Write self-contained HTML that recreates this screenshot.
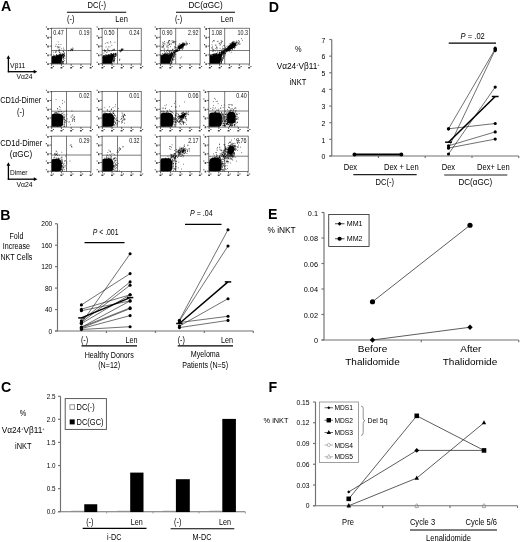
<!DOCTYPE html>
<html><head><meta charset="utf-8"><title>Figure</title>
<style>
html,body{margin:0;padding:0;background:#fff;}
body{width:520px;height:542px;overflow:hidden;font-family:"Liberation Sans",sans-serif;}
svg{display:block;will-change:transform;filter:grayscale(1);}
svg text{font-family:"Liberation Sans",sans-serif;}
</style></head><body>
<svg width="520" height="542" viewBox="0 0 520 542">
<rect width="520" height="542" fill="#fff"/>
<text transform="translate(1.00,10.80) scale(1,1)" font-size="14.2" text-anchor="start" font-weight="bold" font-style="normal" fill="#000" >A</text>
<text transform="translate(0.20,220.40) scale(1,1)" font-size="14.2" text-anchor="start" font-weight="bold" font-style="normal" fill="#000" >B</text>
<text transform="translate(1.00,391.80) scale(1,1)" font-size="14.2" text-anchor="start" font-weight="bold" font-style="normal" fill="#000" >C</text>
<text transform="translate(268.70,11.70) scale(1,1)" font-size="14.2" text-anchor="start" font-weight="bold" font-style="normal" fill="#000" >D</text>
<text transform="translate(268.00,219.20) scale(1,1)" font-size="14.2" text-anchor="start" font-weight="bold" font-style="normal" fill="#000" >E</text>
<text transform="translate(268.60,392.00) scale(1,1)" font-size="14.2" text-anchor="start" font-weight="bold" font-style="normal" fill="#000" >F</text>
<text transform="translate(96.70,7.90) scale(0.88,1)" font-size="8.6" text-anchor="middle" font-weight="normal" font-style="normal" fill="#000" >DC(-)</text>
<line x1="66.90" y1="12.30" x2="126.20" y2="12.30" stroke="#000" stroke-width="1.1" />
<text transform="translate(67.00,21.60) scale(0.88,1)" font-size="8.4" text-anchor="start" font-weight="normal" font-style="normal" fill="#000" >(-)</text>
<text transform="translate(127.80,21.70) scale(0.88,1)" font-size="8.5" text-anchor="end" font-weight="normal" font-style="normal" fill="#000" >Len</text>
<text transform="translate(205.50,7.90) scale(0.93,1)" font-size="8.8" text-anchor="middle" font-weight="normal" font-style="normal" fill="#000" >DC(αGC)</text>
<line x1="176.00" y1="12.30" x2="235.00" y2="12.30" stroke="#000" stroke-width="1.1" />
<text transform="translate(174.90,21.60) scale(0.88,1)" font-size="8.4" text-anchor="start" font-weight="normal" font-style="normal" fill="#000" >(-)</text>
<text transform="translate(233.30,21.70) scale(0.88,1)" font-size="8.5" text-anchor="end" font-weight="normal" font-style="normal" fill="#000" >Len</text>
<line x1="8.40" y1="58.20" x2="8.40" y2="72.30" stroke="#000" stroke-width="1.3" />
<line x1="7.80" y1="71.70" x2="34.30" y2="71.70" stroke="#000" stroke-width="1.3" />
<path d="M6.5,58.800000000000004 L8.4,55.2 L10.3,58.800000000000004Z" fill="#000"/>
<path d="M33.699999999999996,69.8 L37.3,71.7 L33.699999999999996,73.60000000000001Z" fill="#000"/>
<text transform="translate(10.00,67.90) scale(0.9,1)" font-size="7.5" text-anchor="start" font-weight="normal" font-style="normal" fill="#000" >Vβ11</text>
<text transform="translate(16.60,79.00) scale(0.9,1)" font-size="7.5" text-anchor="start" font-weight="normal" font-style="normal" fill="#000" >Vα24</text>
<line x1="8.40" y1="165.20" x2="8.40" y2="179.80" stroke="#000" stroke-width="1.3" />
<line x1="7.80" y1="179.20" x2="34.40" y2="179.20" stroke="#000" stroke-width="1.3" />
<path d="M6.5,165.79999999999998 L8.4,162.2 L10.3,165.79999999999998Z" fill="#000"/>
<path d="M33.8,177.29999999999998 L37.4,179.2 L33.8,181.1Z" fill="#000"/>
<text transform="translate(10.00,175.10) scale(0.88,1)" font-size="7.5" text-anchor="start" font-weight="normal" font-style="normal" fill="#000" >Dimer</text>
<text transform="translate(16.50,186.80) scale(0.9,1)" font-size="7.6" text-anchor="start" font-weight="normal" font-style="normal" fill="#000" >Vα24</text>
<text transform="translate(20.70,103.00) scale(0.87,1)" font-size="8.5" text-anchor="middle" font-weight="normal" font-style="normal" fill="#000" >CD1d-Dimer</text>
<text transform="translate(20.70,114.70) scale(0.88,1)" font-size="8.4" text-anchor="middle" font-weight="normal" font-style="normal" fill="#000" >(-)</text>
<text transform="translate(21.30,145.90) scale(0.88,1)" font-size="8.6" text-anchor="middle" font-weight="normal" font-style="normal" fill="#000" >CD1d-Dimer</text>
<text transform="translate(21.00,157.00) scale(0.93,1)" font-size="8.8" text-anchor="middle" font-weight="normal" font-style="normal" fill="#000" >(αGC)</text>
<rect x="51.40" y="28.20" width="39.60" height="35.80" fill="none" stroke="#333" stroke-width="0.65"/>
<line x1="66.50" y1="28.20" x2="66.50" y2="64.00" stroke="#333" stroke-width="0.65" />
<line x1="51.40" y1="50.50" x2="91.00" y2="50.50" stroke="#333" stroke-width="0.65" />
<line x1="49.50" y1="63.70" x2="51.40" y2="63.70" stroke="#222" stroke-width="0.7" />
<path d="M47.30,63.20h1.5v1.9h-1.5zM45.90,61.70h1.1v1.1h-1.1z" fill="#222" opacity="0.85"/>
<line x1="51.70" y1="64.00" x2="51.70" y2="65.90" stroke="#222" stroke-width="0.7" />
<path d="M50.70,66.90h1.9v1.5h-1.9zM52.90,65.90h1.1v1.1h-1.1z" fill="#222" opacity="0.85"/>
<line x1="49.50" y1="54.90" x2="51.40" y2="54.90" stroke="#222" stroke-width="0.7" />
<path d="M47.30,54.40h1.5v1.9h-1.5zM45.90,52.90h1.1v1.1h-1.1z" fill="#222" opacity="0.85"/>
<line x1="61.45" y1="64.00" x2="61.45" y2="65.90" stroke="#222" stroke-width="0.7" />
<path d="M60.45,66.90h1.9v1.5h-1.9zM62.65,65.90h1.1v1.1h-1.1z" fill="#222" opacity="0.85"/>
<line x1="49.50" y1="46.10" x2="51.40" y2="46.10" stroke="#222" stroke-width="0.7" />
<path d="M47.30,45.60h1.5v1.9h-1.5zM45.90,44.10h1.1v1.1h-1.1z" fill="#222" opacity="0.85"/>
<line x1="71.20" y1="64.00" x2="71.20" y2="65.90" stroke="#222" stroke-width="0.7" />
<path d="M70.20,66.90h1.9v1.5h-1.9zM72.40,65.90h1.1v1.1h-1.1z" fill="#222" opacity="0.85"/>
<line x1="49.50" y1="37.30" x2="51.40" y2="37.30" stroke="#222" stroke-width="0.7" />
<path d="M47.30,36.80h1.5v1.9h-1.5zM45.90,35.30h1.1v1.1h-1.1z" fill="#222" opacity="0.85"/>
<line x1="80.95" y1="64.00" x2="80.95" y2="65.90" stroke="#222" stroke-width="0.7" />
<path d="M79.95,66.90h1.9v1.5h-1.9zM82.15,65.90h1.1v1.1h-1.1z" fill="#222" opacity="0.85"/>
<line x1="49.50" y1="28.50" x2="51.40" y2="28.50" stroke="#222" stroke-width="0.7" />
<path d="M47.30,28.00h1.5v1.9h-1.5zM45.90,26.50h1.1v1.1h-1.1z" fill="#222" opacity="0.85"/>
<line x1="90.70" y1="64.00" x2="90.70" y2="65.90" stroke="#222" stroke-width="0.7" />
<path d="M89.70,66.90h1.9v1.5h-1.9zM91.90,65.90h1.1v1.1h-1.1z" fill="#222" opacity="0.85"/>
<text transform="translate(53.30,34.90) scale(0.77,1)" font-size="7.0" text-anchor="start" font-weight="normal" font-style="normal" fill="#111" >0.47</text>
<text transform="translate(89.40,34.90) scale(0.77,1)" font-size="7.0" text-anchor="end" font-weight="normal" font-style="normal" fill="#111" >0.19</text>
<path d="M51.7,63.7 L51.7,57.3 L53.0,56.8 L54.3,56.4 L55.6,56.6 L56.9,55.7 L58.1,55.8 L59.4,55.4 L60.7,54.8 L62.0,54.9 L63.3,54.6 L62.9,55.8 L61.9,60.7 L61.0,63.7Z" fill="#000"/>
<rect x="102.10" y="28.20" width="39.10" height="35.80" fill="none" stroke="#333" stroke-width="0.65"/>
<line x1="117.50" y1="28.20" x2="117.50" y2="64.00" stroke="#333" stroke-width="0.65" />
<line x1="102.10" y1="50.50" x2="141.20" y2="50.50" stroke="#333" stroke-width="0.65" />
<line x1="100.20" y1="63.70" x2="102.10" y2="63.70" stroke="#222" stroke-width="0.7" />
<path d="M98.00,63.20h1.5v1.9h-1.5zM96.60,61.70h1.1v1.1h-1.1z" fill="#222" opacity="0.85"/>
<line x1="102.40" y1="64.00" x2="102.40" y2="65.90" stroke="#222" stroke-width="0.7" />
<path d="M101.40,66.90h1.9v1.5h-1.9zM103.60,65.90h1.1v1.1h-1.1z" fill="#222" opacity="0.85"/>
<line x1="100.20" y1="54.90" x2="102.10" y2="54.90" stroke="#222" stroke-width="0.7" />
<path d="M98.00,54.40h1.5v1.9h-1.5zM96.60,52.90h1.1v1.1h-1.1z" fill="#222" opacity="0.85"/>
<line x1="112.02" y1="64.00" x2="112.02" y2="65.90" stroke="#222" stroke-width="0.7" />
<path d="M111.02,66.90h1.9v1.5h-1.9zM113.22,65.90h1.1v1.1h-1.1z" fill="#222" opacity="0.85"/>
<line x1="100.20" y1="46.10" x2="102.10" y2="46.10" stroke="#222" stroke-width="0.7" />
<path d="M98.00,45.60h1.5v1.9h-1.5zM96.60,44.10h1.1v1.1h-1.1z" fill="#222" opacity="0.85"/>
<line x1="121.65" y1="64.00" x2="121.65" y2="65.90" stroke="#222" stroke-width="0.7" />
<path d="M120.65,66.90h1.9v1.5h-1.9zM122.85,65.90h1.1v1.1h-1.1z" fill="#222" opacity="0.85"/>
<line x1="100.20" y1="37.30" x2="102.10" y2="37.30" stroke="#222" stroke-width="0.7" />
<path d="M98.00,36.80h1.5v1.9h-1.5zM96.60,35.30h1.1v1.1h-1.1z" fill="#222" opacity="0.85"/>
<line x1="131.27" y1="64.00" x2="131.27" y2="65.90" stroke="#222" stroke-width="0.7" />
<path d="M130.27,66.90h1.9v1.5h-1.9zM132.47,65.90h1.1v1.1h-1.1z" fill="#222" opacity="0.85"/>
<line x1="100.20" y1="28.50" x2="102.10" y2="28.50" stroke="#222" stroke-width="0.7" />
<path d="M98.00,28.00h1.5v1.9h-1.5zM96.60,26.50h1.1v1.1h-1.1z" fill="#222" opacity="0.85"/>
<line x1="140.90" y1="64.00" x2="140.90" y2="65.90" stroke="#222" stroke-width="0.7" />
<path d="M139.90,66.90h1.9v1.5h-1.9zM142.10,65.90h1.1v1.1h-1.1z" fill="#222" opacity="0.85"/>
<text transform="translate(104.00,34.90) scale(0.77,1)" font-size="7.0" text-anchor="start" font-weight="normal" font-style="normal" fill="#111" >0.50</text>
<text transform="translate(139.60,34.90) scale(0.77,1)" font-size="7.0" text-anchor="end" font-weight="normal" font-style="normal" fill="#111" >0.24</text>
<path d="M102.4,63.7 L102.4,57.0 L103.8,56.4 L105.1,56.2 L106.5,56.3 L107.9,55.3 L109.2,55.5 L110.6,55.1 L112.0,54.3 L113.3,54.3 L114.7,54.2 L114.3,55.4 L112.7,60.7 L111.8,63.7Z" fill="#000"/>
<rect x="160.20" y="28.20" width="39.90" height="35.80" fill="none" stroke="#333" stroke-width="0.65"/>
<line x1="175.70" y1="28.20" x2="175.70" y2="64.00" stroke="#333" stroke-width="0.65" />
<line x1="160.20" y1="50.50" x2="200.10" y2="50.50" stroke="#333" stroke-width="0.65" />
<line x1="158.30" y1="63.70" x2="160.20" y2="63.70" stroke="#222" stroke-width="0.7" />
<path d="M156.10,63.20h1.5v1.9h-1.5zM154.70,61.70h1.1v1.1h-1.1z" fill="#222" opacity="0.85"/>
<line x1="160.50" y1="64.00" x2="160.50" y2="65.90" stroke="#222" stroke-width="0.7" />
<path d="M159.50,66.90h1.9v1.5h-1.9zM161.70,65.90h1.1v1.1h-1.1z" fill="#222" opacity="0.85"/>
<line x1="158.30" y1="54.90" x2="160.20" y2="54.90" stroke="#222" stroke-width="0.7" />
<path d="M156.10,54.40h1.5v1.9h-1.5zM154.70,52.90h1.1v1.1h-1.1z" fill="#222" opacity="0.85"/>
<line x1="170.32" y1="64.00" x2="170.32" y2="65.90" stroke="#222" stroke-width="0.7" />
<path d="M169.32,66.90h1.9v1.5h-1.9zM171.52,65.90h1.1v1.1h-1.1z" fill="#222" opacity="0.85"/>
<line x1="158.30" y1="46.10" x2="160.20" y2="46.10" stroke="#222" stroke-width="0.7" />
<path d="M156.10,45.60h1.5v1.9h-1.5zM154.70,44.10h1.1v1.1h-1.1z" fill="#222" opacity="0.85"/>
<line x1="180.15" y1="64.00" x2="180.15" y2="65.90" stroke="#222" stroke-width="0.7" />
<path d="M179.15,66.90h1.9v1.5h-1.9zM181.35,65.90h1.1v1.1h-1.1z" fill="#222" opacity="0.85"/>
<line x1="158.30" y1="37.30" x2="160.20" y2="37.30" stroke="#222" stroke-width="0.7" />
<path d="M156.10,36.80h1.5v1.9h-1.5zM154.70,35.30h1.1v1.1h-1.1z" fill="#222" opacity="0.85"/>
<line x1="189.97" y1="64.00" x2="189.97" y2="65.90" stroke="#222" stroke-width="0.7" />
<path d="M188.97,66.90h1.9v1.5h-1.9zM191.17,65.90h1.1v1.1h-1.1z" fill="#222" opacity="0.85"/>
<line x1="158.30" y1="28.50" x2="160.20" y2="28.50" stroke="#222" stroke-width="0.7" />
<path d="M156.10,28.00h1.5v1.9h-1.5zM154.70,26.50h1.1v1.1h-1.1z" fill="#222" opacity="0.85"/>
<line x1="199.80" y1="64.00" x2="199.80" y2="65.90" stroke="#222" stroke-width="0.7" />
<path d="M198.80,66.90h1.9v1.5h-1.9zM201.00,65.90h1.1v1.1h-1.1z" fill="#222" opacity="0.85"/>
<text transform="translate(162.10,34.90) scale(0.77,1)" font-size="7.0" text-anchor="start" font-weight="normal" font-style="normal" fill="#111" >0.90</text>
<text transform="translate(198.50,34.90) scale(0.77,1)" font-size="7.0" text-anchor="end" font-weight="normal" font-style="normal" fill="#111" >2.92</text>
<path d="M160.5,63.7 L160.5,55.3 L162.0,55.2 L163.5,54.7 L164.9,54.3 L166.4,54.2 L167.9,54.4 L169.4,54.2 L170.8,53.4 L172.3,53.2 L173.8,53.4 L173.4,54.6 L170.9,60.7 L170.0,63.7Z" fill="#000"/>
<ellipse cx="181.4" cy="46.2" rx="4.0" ry="1.7" transform="rotate(-36 181.4 46.2)" fill="#000"/>
<rect x="209.50" y="28.20" width="40.00" height="35.80" fill="none" stroke="#333" stroke-width="0.65"/>
<line x1="224.70" y1="28.20" x2="224.70" y2="64.00" stroke="#333" stroke-width="0.65" />
<line x1="209.50" y1="50.50" x2="249.50" y2="50.50" stroke="#333" stroke-width="0.65" />
<line x1="207.60" y1="63.70" x2="209.50" y2="63.70" stroke="#222" stroke-width="0.7" />
<path d="M205.40,63.20h1.5v1.9h-1.5zM204.00,61.70h1.1v1.1h-1.1z" fill="#222" opacity="0.85"/>
<line x1="209.80" y1="64.00" x2="209.80" y2="65.90" stroke="#222" stroke-width="0.7" />
<path d="M208.80,66.90h1.9v1.5h-1.9zM211.00,65.90h1.1v1.1h-1.1z" fill="#222" opacity="0.85"/>
<line x1="207.60" y1="54.90" x2="209.50" y2="54.90" stroke="#222" stroke-width="0.7" />
<path d="M205.40,54.40h1.5v1.9h-1.5zM204.00,52.90h1.1v1.1h-1.1z" fill="#222" opacity="0.85"/>
<line x1="219.65" y1="64.00" x2="219.65" y2="65.90" stroke="#222" stroke-width="0.7" />
<path d="M218.65,66.90h1.9v1.5h-1.9zM220.85,65.90h1.1v1.1h-1.1z" fill="#222" opacity="0.85"/>
<line x1="207.60" y1="46.10" x2="209.50" y2="46.10" stroke="#222" stroke-width="0.7" />
<path d="M205.40,45.60h1.5v1.9h-1.5zM204.00,44.10h1.1v1.1h-1.1z" fill="#222" opacity="0.85"/>
<line x1="229.50" y1="64.00" x2="229.50" y2="65.90" stroke="#222" stroke-width="0.7" />
<path d="M228.50,66.90h1.9v1.5h-1.9zM230.70,65.90h1.1v1.1h-1.1z" fill="#222" opacity="0.85"/>
<line x1="207.60" y1="37.30" x2="209.50" y2="37.30" stroke="#222" stroke-width="0.7" />
<path d="M205.40,36.80h1.5v1.9h-1.5zM204.00,35.30h1.1v1.1h-1.1z" fill="#222" opacity="0.85"/>
<line x1="239.35" y1="64.00" x2="239.35" y2="65.90" stroke="#222" stroke-width="0.7" />
<path d="M238.35,66.90h1.9v1.5h-1.9zM240.55,65.90h1.1v1.1h-1.1z" fill="#222" opacity="0.85"/>
<line x1="207.60" y1="28.50" x2="209.50" y2="28.50" stroke="#222" stroke-width="0.7" />
<path d="M205.40,28.00h1.5v1.9h-1.5zM204.00,26.50h1.1v1.1h-1.1z" fill="#222" opacity="0.85"/>
<line x1="249.20" y1="64.00" x2="249.20" y2="65.90" stroke="#222" stroke-width="0.7" />
<path d="M248.20,66.90h1.9v1.5h-1.9zM250.40,65.90h1.1v1.1h-1.1z" fill="#222" opacity="0.85"/>
<text transform="translate(211.40,34.90) scale(0.77,1)" font-size="7.0" text-anchor="start" font-weight="normal" font-style="normal" fill="#111" >1.08</text>
<text transform="translate(247.90,34.90) scale(0.77,1)" font-size="7.0" text-anchor="end" font-weight="normal" font-style="normal" fill="#111" >10.3</text>
<path d="M209.8,63.7 L209.8,56.1 L211.3,55.8 L212.8,55.5 L214.2,54.8 L215.7,54.2 L217.2,54.3 L218.7,54.1 L220.1,53.6 L221.6,53.1 L223.1,52.5 L222.7,53.7 L220.8,60.7 L219.9,63.7Z" fill="#000"/>
<ellipse cx="231.7" cy="46.3" rx="5.6" ry="2.3" transform="rotate(-35 231.7 46.3)" fill="#000"/>
<rect x="51.40" y="91.40" width="39.60" height="35.70" fill="none" stroke="#333" stroke-width="0.65"/>
<line x1="66.50" y1="91.40" x2="66.50" y2="127.10" stroke="#333" stroke-width="0.65" />
<line x1="51.40" y1="111.20" x2="91.00" y2="111.20" stroke="#333" stroke-width="0.65" />
<line x1="49.50" y1="126.80" x2="51.40" y2="126.80" stroke="#222" stroke-width="0.7" />
<path d="M47.30,126.30h1.5v1.9h-1.5zM45.90,124.80h1.1v1.1h-1.1z" fill="#222" opacity="0.85"/>
<line x1="51.70" y1="127.10" x2="51.70" y2="129.00" stroke="#222" stroke-width="0.7" />
<path d="M50.70,130.00h1.9v1.5h-1.9zM52.90,129.00h1.1v1.1h-1.1z" fill="#222" opacity="0.85"/>
<line x1="49.50" y1="118.03" x2="51.40" y2="118.03" stroke="#222" stroke-width="0.7" />
<path d="M47.30,117.53h1.5v1.9h-1.5zM45.90,116.03h1.1v1.1h-1.1z" fill="#222" opacity="0.85"/>
<line x1="61.45" y1="127.10" x2="61.45" y2="129.00" stroke="#222" stroke-width="0.7" />
<path d="M60.45,130.00h1.9v1.5h-1.9zM62.65,129.00h1.1v1.1h-1.1z" fill="#222" opacity="0.85"/>
<line x1="49.50" y1="109.25" x2="51.40" y2="109.25" stroke="#222" stroke-width="0.7" />
<path d="M47.30,108.75h1.5v1.9h-1.5zM45.90,107.25h1.1v1.1h-1.1z" fill="#222" opacity="0.85"/>
<line x1="71.20" y1="127.10" x2="71.20" y2="129.00" stroke="#222" stroke-width="0.7" />
<path d="M70.20,130.00h1.9v1.5h-1.9zM72.40,129.00h1.1v1.1h-1.1z" fill="#222" opacity="0.85"/>
<line x1="49.50" y1="100.48" x2="51.40" y2="100.48" stroke="#222" stroke-width="0.7" />
<path d="M47.30,99.98h1.5v1.9h-1.5zM45.90,98.48h1.1v1.1h-1.1z" fill="#222" opacity="0.85"/>
<line x1="80.95" y1="127.10" x2="80.95" y2="129.00" stroke="#222" stroke-width="0.7" />
<path d="M79.95,130.00h1.9v1.5h-1.9zM82.15,129.00h1.1v1.1h-1.1z" fill="#222" opacity="0.85"/>
<line x1="49.50" y1="91.70" x2="51.40" y2="91.70" stroke="#222" stroke-width="0.7" />
<path d="M47.30,91.20h1.5v1.9h-1.5zM45.90,89.70h1.1v1.1h-1.1z" fill="#222" opacity="0.85"/>
<line x1="90.70" y1="127.10" x2="90.70" y2="129.00" stroke="#222" stroke-width="0.7" />
<path d="M89.70,130.00h1.9v1.5h-1.9zM91.90,129.00h1.1v1.1h-1.1z" fill="#222" opacity="0.85"/>
<text transform="translate(89.40,97.90) scale(0.77,1)" font-size="7.0" text-anchor="end" font-weight="normal" font-style="normal" fill="#111" >0.02</text>
<path d="M51.7,126.8 L51.7,115.9 Q51.7,113.5 54.6,113.5 L58.1,113.5 Q63.1,113.5 63.1,118.5 L62.9,123.6 Q62.8,126.8 59.9,126.8Z" fill="#000"/>
<rect x="102.10" y="91.40" width="39.10" height="35.70" fill="none" stroke="#333" stroke-width="0.65"/>
<line x1="117.50" y1="91.40" x2="117.50" y2="127.10" stroke="#333" stroke-width="0.65" />
<line x1="102.10" y1="111.20" x2="141.20" y2="111.20" stroke="#333" stroke-width="0.65" />
<line x1="100.20" y1="126.80" x2="102.10" y2="126.80" stroke="#222" stroke-width="0.7" />
<path d="M98.00,126.30h1.5v1.9h-1.5zM96.60,124.80h1.1v1.1h-1.1z" fill="#222" opacity="0.85"/>
<line x1="102.40" y1="127.10" x2="102.40" y2="129.00" stroke="#222" stroke-width="0.7" />
<path d="M101.40,130.00h1.9v1.5h-1.9zM103.60,129.00h1.1v1.1h-1.1z" fill="#222" opacity="0.85"/>
<line x1="100.20" y1="118.03" x2="102.10" y2="118.03" stroke="#222" stroke-width="0.7" />
<path d="M98.00,117.53h1.5v1.9h-1.5zM96.60,116.03h1.1v1.1h-1.1z" fill="#222" opacity="0.85"/>
<line x1="112.02" y1="127.10" x2="112.02" y2="129.00" stroke="#222" stroke-width="0.7" />
<path d="M111.02,130.00h1.9v1.5h-1.9zM113.22,129.00h1.1v1.1h-1.1z" fill="#222" opacity="0.85"/>
<line x1="100.20" y1="109.25" x2="102.10" y2="109.25" stroke="#222" stroke-width="0.7" />
<path d="M98.00,108.75h1.5v1.9h-1.5zM96.60,107.25h1.1v1.1h-1.1z" fill="#222" opacity="0.85"/>
<line x1="121.65" y1="127.10" x2="121.65" y2="129.00" stroke="#222" stroke-width="0.7" />
<path d="M120.65,130.00h1.9v1.5h-1.9zM122.85,129.00h1.1v1.1h-1.1z" fill="#222" opacity="0.85"/>
<line x1="100.20" y1="100.48" x2="102.10" y2="100.48" stroke="#222" stroke-width="0.7" />
<path d="M98.00,99.98h1.5v1.9h-1.5zM96.60,98.48h1.1v1.1h-1.1z" fill="#222" opacity="0.85"/>
<line x1="131.27" y1="127.10" x2="131.27" y2="129.00" stroke="#222" stroke-width="0.7" />
<path d="M130.27,130.00h1.9v1.5h-1.9zM132.47,129.00h1.1v1.1h-1.1z" fill="#222" opacity="0.85"/>
<line x1="100.20" y1="91.70" x2="102.10" y2="91.70" stroke="#222" stroke-width="0.7" />
<path d="M98.00,91.20h1.5v1.9h-1.5zM96.60,89.70h1.1v1.1h-1.1z" fill="#222" opacity="0.85"/>
<line x1="140.90" y1="127.10" x2="140.90" y2="129.00" stroke="#222" stroke-width="0.7" />
<path d="M139.90,130.00h1.9v1.5h-1.9zM142.10,129.00h1.1v1.1h-1.1z" fill="#222" opacity="0.85"/>
<text transform="translate(139.60,97.90) scale(0.77,1)" font-size="7.0" text-anchor="end" font-weight="normal" font-style="normal" fill="#111" >0.01</text>
<path d="M102.4,126.8 L102.4,115.6 Q102.4,113.2 105.3,113.2 L109.0,113.2 Q114.0,113.2 114.0,118.2 L113.8,123.6 Q113.7,126.8 110.8,126.8Z" fill="#000"/>
<rect x="122.70" y="116.40" width="1.00" height="1.20" fill="#000" stroke="none" stroke-width="0"/>
<rect x="160.20" y="91.40" width="39.80" height="35.70" fill="none" stroke="#333" stroke-width="0.65"/>
<line x1="175.70" y1="91.40" x2="175.70" y2="127.10" stroke="#333" stroke-width="0.65" />
<line x1="160.20" y1="111.20" x2="200.00" y2="111.20" stroke="#333" stroke-width="0.65" />
<line x1="158.30" y1="126.80" x2="160.20" y2="126.80" stroke="#222" stroke-width="0.7" />
<path d="M156.10,126.30h1.5v1.9h-1.5zM154.70,124.80h1.1v1.1h-1.1z" fill="#222" opacity="0.85"/>
<line x1="160.50" y1="127.10" x2="160.50" y2="129.00" stroke="#222" stroke-width="0.7" />
<path d="M159.50,130.00h1.9v1.5h-1.9zM161.70,129.00h1.1v1.1h-1.1z" fill="#222" opacity="0.85"/>
<line x1="158.30" y1="118.03" x2="160.20" y2="118.03" stroke="#222" stroke-width="0.7" />
<path d="M156.10,117.53h1.5v1.9h-1.5zM154.70,116.03h1.1v1.1h-1.1z" fill="#222" opacity="0.85"/>
<line x1="170.30" y1="127.10" x2="170.30" y2="129.00" stroke="#222" stroke-width="0.7" />
<path d="M169.30,130.00h1.9v1.5h-1.9zM171.50,129.00h1.1v1.1h-1.1z" fill="#222" opacity="0.85"/>
<line x1="158.30" y1="109.25" x2="160.20" y2="109.25" stroke="#222" stroke-width="0.7" />
<path d="M156.10,108.75h1.5v1.9h-1.5zM154.70,107.25h1.1v1.1h-1.1z" fill="#222" opacity="0.85"/>
<line x1="180.10" y1="127.10" x2="180.10" y2="129.00" stroke="#222" stroke-width="0.7" />
<path d="M179.10,130.00h1.9v1.5h-1.9zM181.30,129.00h1.1v1.1h-1.1z" fill="#222" opacity="0.85"/>
<line x1="158.30" y1="100.48" x2="160.20" y2="100.48" stroke="#222" stroke-width="0.7" />
<path d="M156.10,99.98h1.5v1.9h-1.5zM154.70,98.48h1.1v1.1h-1.1z" fill="#222" opacity="0.85"/>
<line x1="189.90" y1="127.10" x2="189.90" y2="129.00" stroke="#222" stroke-width="0.7" />
<path d="M188.90,130.00h1.9v1.5h-1.9zM191.10,129.00h1.1v1.1h-1.1z" fill="#222" opacity="0.85"/>
<line x1="158.30" y1="91.70" x2="160.20" y2="91.70" stroke="#222" stroke-width="0.7" />
<path d="M156.10,91.20h1.5v1.9h-1.5zM154.70,89.70h1.1v1.1h-1.1z" fill="#222" opacity="0.85"/>
<line x1="199.70" y1="127.10" x2="199.70" y2="129.00" stroke="#222" stroke-width="0.7" />
<path d="M198.70,130.00h1.9v1.5h-1.9zM200.90,129.00h1.1v1.1h-1.1z" fill="#222" opacity="0.85"/>
<text transform="translate(198.40,97.90) scale(0.77,1)" font-size="7.0" text-anchor="end" font-weight="normal" font-style="normal" fill="#111" >0.06</text>
<path d="M160.5,126.8 L160.5,115.4 Q160.5,112.8 163.6,112.8 L168.3,112.8 Q173.3,112.8 173.3,117.8 L173.1,123.6 Q173.0,126.8 170.1,126.8Z" fill="#000"/>
<ellipse cx="182.7" cy="115.8" rx="3.4" ry="1.5" transform="rotate(-40 182.7 115.8)" fill="#000"/>
<rect x="208.80" y="91.40" width="39.60" height="35.70" fill="none" stroke="#333" stroke-width="0.65"/>
<line x1="224.70" y1="91.40" x2="224.70" y2="127.10" stroke="#333" stroke-width="0.65" />
<line x1="208.80" y1="111.00" x2="248.40" y2="111.00" stroke="#333" stroke-width="0.65" />
<line x1="206.90" y1="126.80" x2="208.80" y2="126.80" stroke="#222" stroke-width="0.7" />
<path d="M204.70,126.30h1.5v1.9h-1.5zM203.30,124.80h1.1v1.1h-1.1z" fill="#222" opacity="0.85"/>
<line x1="209.10" y1="127.10" x2="209.10" y2="129.00" stroke="#222" stroke-width="0.7" />
<path d="M208.10,130.00h1.9v1.5h-1.9zM210.30,129.00h1.1v1.1h-1.1z" fill="#222" opacity="0.85"/>
<line x1="206.90" y1="118.03" x2="208.80" y2="118.03" stroke="#222" stroke-width="0.7" />
<path d="M204.70,117.53h1.5v1.9h-1.5zM203.30,116.03h1.1v1.1h-1.1z" fill="#222" opacity="0.85"/>
<line x1="218.85" y1="127.10" x2="218.85" y2="129.00" stroke="#222" stroke-width="0.7" />
<path d="M217.85,130.00h1.9v1.5h-1.9zM220.05,129.00h1.1v1.1h-1.1z" fill="#222" opacity="0.85"/>
<line x1="206.90" y1="109.25" x2="208.80" y2="109.25" stroke="#222" stroke-width="0.7" />
<path d="M204.70,108.75h1.5v1.9h-1.5zM203.30,107.25h1.1v1.1h-1.1z" fill="#222" opacity="0.85"/>
<line x1="228.60" y1="127.10" x2="228.60" y2="129.00" stroke="#222" stroke-width="0.7" />
<path d="M227.60,130.00h1.9v1.5h-1.9zM229.80,129.00h1.1v1.1h-1.1z" fill="#222" opacity="0.85"/>
<line x1="206.90" y1="100.48" x2="208.80" y2="100.48" stroke="#222" stroke-width="0.7" />
<path d="M204.70,99.98h1.5v1.9h-1.5zM203.30,98.48h1.1v1.1h-1.1z" fill="#222" opacity="0.85"/>
<line x1="238.35" y1="127.10" x2="238.35" y2="129.00" stroke="#222" stroke-width="0.7" />
<path d="M237.35,130.00h1.9v1.5h-1.9zM239.55,129.00h1.1v1.1h-1.1z" fill="#222" opacity="0.85"/>
<line x1="206.90" y1="91.70" x2="208.80" y2="91.70" stroke="#222" stroke-width="0.7" />
<path d="M204.70,91.20h1.5v1.9h-1.5zM203.30,89.70h1.1v1.1h-1.1z" fill="#222" opacity="0.85"/>
<line x1="248.10" y1="127.10" x2="248.10" y2="129.00" stroke="#222" stroke-width="0.7" />
<path d="M247.10,130.00h1.9v1.5h-1.9zM249.30,129.00h1.1v1.1h-1.1z" fill="#222" opacity="0.85"/>
<text transform="translate(246.80,97.90) scale(0.77,1)" font-size="7.0" text-anchor="end" font-weight="normal" font-style="normal" fill="#111" >0.40</text>
<path d="M209.1,126.8 L209.1,115.2 Q209.1,112.6 212.2,112.6 L216.9,112.6 Q221.9,112.6 221.9,117.6 L221.7,123.6 Q221.6,126.8 218.7,126.8Z" fill="#000"/>
<rect x="227.2" y="112.0" width="8.4" height="11.4" rx="3.4" ry="4" fill="#000"/>
<rect x="51.30" y="136.10" width="39.70" height="35.40" fill="none" stroke="#333" stroke-width="0.65"/>
<line x1="66.50" y1="136.10" x2="66.50" y2="171.50" stroke="#333" stroke-width="0.65" />
<line x1="51.30" y1="155.00" x2="91.00" y2="155.00" stroke="#333" stroke-width="0.65" />
<line x1="49.40" y1="171.20" x2="51.30" y2="171.20" stroke="#222" stroke-width="0.7" />
<path d="M47.20,170.70h1.5v1.9h-1.5zM45.80,169.20h1.1v1.1h-1.1z" fill="#222" opacity="0.85"/>
<line x1="51.60" y1="171.50" x2="51.60" y2="173.40" stroke="#222" stroke-width="0.7" />
<path d="M50.60,174.40h1.9v1.5h-1.9zM52.80,173.40h1.1v1.1h-1.1z" fill="#222" opacity="0.85"/>
<line x1="49.40" y1="162.50" x2="51.30" y2="162.50" stroke="#222" stroke-width="0.7" />
<path d="M47.20,162.00h1.5v1.9h-1.5zM45.80,160.50h1.1v1.1h-1.1z" fill="#222" opacity="0.85"/>
<line x1="61.37" y1="171.50" x2="61.37" y2="173.40" stroke="#222" stroke-width="0.7" />
<path d="M60.37,174.40h1.9v1.5h-1.9zM62.57,173.40h1.1v1.1h-1.1z" fill="#222" opacity="0.85"/>
<line x1="49.40" y1="153.80" x2="51.30" y2="153.80" stroke="#222" stroke-width="0.7" />
<path d="M47.20,153.30h1.5v1.9h-1.5zM45.80,151.80h1.1v1.1h-1.1z" fill="#222" opacity="0.85"/>
<line x1="71.15" y1="171.50" x2="71.15" y2="173.40" stroke="#222" stroke-width="0.7" />
<path d="M70.15,174.40h1.9v1.5h-1.9zM72.35,173.40h1.1v1.1h-1.1z" fill="#222" opacity="0.85"/>
<line x1="49.40" y1="145.10" x2="51.30" y2="145.10" stroke="#222" stroke-width="0.7" />
<path d="M47.20,144.60h1.5v1.9h-1.5zM45.80,143.10h1.1v1.1h-1.1z" fill="#222" opacity="0.85"/>
<line x1="80.92" y1="171.50" x2="80.92" y2="173.40" stroke="#222" stroke-width="0.7" />
<path d="M79.92,174.40h1.9v1.5h-1.9zM82.12,173.40h1.1v1.1h-1.1z" fill="#222" opacity="0.85"/>
<line x1="49.40" y1="136.40" x2="51.30" y2="136.40" stroke="#222" stroke-width="0.7" />
<path d="M47.20,135.90h1.5v1.9h-1.5zM45.80,134.40h1.1v1.1h-1.1z" fill="#222" opacity="0.85"/>
<line x1="90.70" y1="171.50" x2="90.70" y2="173.40" stroke="#222" stroke-width="0.7" />
<path d="M89.70,174.40h1.9v1.5h-1.9zM91.90,173.40h1.1v1.1h-1.1z" fill="#222" opacity="0.85"/>
<text transform="translate(89.40,142.60) scale(0.77,1)" font-size="7.0" text-anchor="end" font-weight="normal" font-style="normal" fill="#111" >0.29</text>
<path d="M51.6,171.2 L51.6,161.3 Q51.6,158.9 54.5,158.9 L56.8,158.9 Q61.8,158.9 61.8,163.9 L61.6,168.0 Q61.5,171.2 58.6,171.2Z" fill="#000"/>
<rect x="102.10" y="136.10" width="39.10" height="35.40" fill="none" stroke="#333" stroke-width="0.65"/>
<line x1="117.50" y1="136.10" x2="117.50" y2="171.50" stroke="#333" stroke-width="0.65" />
<line x1="102.10" y1="155.20" x2="141.20" y2="155.20" stroke="#333" stroke-width="0.65" />
<line x1="100.20" y1="171.20" x2="102.10" y2="171.20" stroke="#222" stroke-width="0.7" />
<path d="M98.00,170.70h1.5v1.9h-1.5zM96.60,169.20h1.1v1.1h-1.1z" fill="#222" opacity="0.85"/>
<line x1="102.40" y1="171.50" x2="102.40" y2="173.40" stroke="#222" stroke-width="0.7" />
<path d="M101.40,174.40h1.9v1.5h-1.9zM103.60,173.40h1.1v1.1h-1.1z" fill="#222" opacity="0.85"/>
<line x1="100.20" y1="162.50" x2="102.10" y2="162.50" stroke="#222" stroke-width="0.7" />
<path d="M98.00,162.00h1.5v1.9h-1.5zM96.60,160.50h1.1v1.1h-1.1z" fill="#222" opacity="0.85"/>
<line x1="112.02" y1="171.50" x2="112.02" y2="173.40" stroke="#222" stroke-width="0.7" />
<path d="M111.02,174.40h1.9v1.5h-1.9zM113.22,173.40h1.1v1.1h-1.1z" fill="#222" opacity="0.85"/>
<line x1="100.20" y1="153.80" x2="102.10" y2="153.80" stroke="#222" stroke-width="0.7" />
<path d="M98.00,153.30h1.5v1.9h-1.5zM96.60,151.80h1.1v1.1h-1.1z" fill="#222" opacity="0.85"/>
<line x1="121.65" y1="171.50" x2="121.65" y2="173.40" stroke="#222" stroke-width="0.7" />
<path d="M120.65,174.40h1.9v1.5h-1.9zM122.85,173.40h1.1v1.1h-1.1z" fill="#222" opacity="0.85"/>
<line x1="100.20" y1="145.10" x2="102.10" y2="145.10" stroke="#222" stroke-width="0.7" />
<path d="M98.00,144.60h1.5v1.9h-1.5zM96.60,143.10h1.1v1.1h-1.1z" fill="#222" opacity="0.85"/>
<line x1="131.27" y1="171.50" x2="131.27" y2="173.40" stroke="#222" stroke-width="0.7" />
<path d="M130.27,174.40h1.9v1.5h-1.9zM132.47,173.40h1.1v1.1h-1.1z" fill="#222" opacity="0.85"/>
<line x1="100.20" y1="136.40" x2="102.10" y2="136.40" stroke="#222" stroke-width="0.7" />
<path d="M98.00,135.90h1.5v1.9h-1.5zM96.60,134.40h1.1v1.1h-1.1z" fill="#222" opacity="0.85"/>
<line x1="140.90" y1="171.50" x2="140.90" y2="173.40" stroke="#222" stroke-width="0.7" />
<path d="M139.90,174.40h1.9v1.5h-1.9zM142.10,173.40h1.1v1.1h-1.1z" fill="#222" opacity="0.85"/>
<text transform="translate(139.60,142.60) scale(0.77,1)" font-size="7.0" text-anchor="end" font-weight="normal" font-style="normal" fill="#111" >0.32</text>
<path d="M102.4,171.2 L102.4,161.0 Q102.4,158.6 105.3,158.6 L108.4,158.6 Q113.4,158.6 113.4,163.6 L113.2,168.0 Q113.1,171.2 110.2,171.2Z" fill="#000"/>
<rect x="160.20" y="136.10" width="40.00" height="35.40" fill="none" stroke="#333" stroke-width="0.65"/>
<line x1="175.70" y1="136.10" x2="175.70" y2="171.50" stroke="#333" stroke-width="0.65" />
<line x1="160.20" y1="155.80" x2="200.20" y2="155.80" stroke="#333" stroke-width="0.65" />
<line x1="158.30" y1="171.20" x2="160.20" y2="171.20" stroke="#222" stroke-width="0.7" />
<path d="M156.10,170.70h1.5v1.9h-1.5zM154.70,169.20h1.1v1.1h-1.1z" fill="#222" opacity="0.85"/>
<line x1="160.50" y1="171.50" x2="160.50" y2="173.40" stroke="#222" stroke-width="0.7" />
<path d="M159.50,174.40h1.9v1.5h-1.9zM161.70,173.40h1.1v1.1h-1.1z" fill="#222" opacity="0.85"/>
<line x1="158.30" y1="162.50" x2="160.20" y2="162.50" stroke="#222" stroke-width="0.7" />
<path d="M156.10,162.00h1.5v1.9h-1.5zM154.70,160.50h1.1v1.1h-1.1z" fill="#222" opacity="0.85"/>
<line x1="170.35" y1="171.50" x2="170.35" y2="173.40" stroke="#222" stroke-width="0.7" />
<path d="M169.35,174.40h1.9v1.5h-1.9zM171.55,173.40h1.1v1.1h-1.1z" fill="#222" opacity="0.85"/>
<line x1="158.30" y1="153.80" x2="160.20" y2="153.80" stroke="#222" stroke-width="0.7" />
<path d="M156.10,153.30h1.5v1.9h-1.5zM154.70,151.80h1.1v1.1h-1.1z" fill="#222" opacity="0.85"/>
<line x1="180.20" y1="171.50" x2="180.20" y2="173.40" stroke="#222" stroke-width="0.7" />
<path d="M179.20,174.40h1.9v1.5h-1.9zM181.40,173.40h1.1v1.1h-1.1z" fill="#222" opacity="0.85"/>
<line x1="158.30" y1="145.10" x2="160.20" y2="145.10" stroke="#222" stroke-width="0.7" />
<path d="M156.10,144.60h1.5v1.9h-1.5zM154.70,143.10h1.1v1.1h-1.1z" fill="#222" opacity="0.85"/>
<line x1="190.05" y1="171.50" x2="190.05" y2="173.40" stroke="#222" stroke-width="0.7" />
<path d="M189.05,174.40h1.9v1.5h-1.9zM191.25,173.40h1.1v1.1h-1.1z" fill="#222" opacity="0.85"/>
<line x1="158.30" y1="136.40" x2="160.20" y2="136.40" stroke="#222" stroke-width="0.7" />
<path d="M156.10,135.90h1.5v1.9h-1.5zM154.70,134.40h1.1v1.1h-1.1z" fill="#222" opacity="0.85"/>
<line x1="199.90" y1="171.50" x2="199.90" y2="173.40" stroke="#222" stroke-width="0.7" />
<path d="M198.90,174.40h1.9v1.5h-1.9zM201.10,173.40h1.1v1.1h-1.1z" fill="#222" opacity="0.85"/>
<text transform="translate(198.60,142.60) scale(0.77,1)" font-size="7.0" text-anchor="end" font-weight="normal" font-style="normal" fill="#111" >2.17</text>
<path d="M160.5,171.2 L160.5,160.8 Q160.5,158.2 163.6,158.2 L167.3,158.2 Q172.3,158.2 172.3,163.2 L172.1,168.0 Q172.0,171.2 169.1,171.2Z" fill="#000"/>
<ellipse cx="183.4" cy="150.6" rx="1.6" ry="0.9" transform="rotate(-50 183.4 150.6)" fill="#000"/>
<rect x="208.80" y="136.10" width="39.40" height="35.40" fill="none" stroke="#333" stroke-width="0.65"/>
<line x1="224.70" y1="136.10" x2="224.70" y2="171.50" stroke="#333" stroke-width="0.65" />
<line x1="208.80" y1="156.20" x2="248.20" y2="156.20" stroke="#333" stroke-width="0.65" />
<line x1="206.90" y1="171.20" x2="208.80" y2="171.20" stroke="#222" stroke-width="0.7" />
<path d="M204.70,170.70h1.5v1.9h-1.5zM203.30,169.20h1.1v1.1h-1.1z" fill="#222" opacity="0.85"/>
<line x1="209.10" y1="171.50" x2="209.10" y2="173.40" stroke="#222" stroke-width="0.7" />
<path d="M208.10,174.40h1.9v1.5h-1.9zM210.30,173.40h1.1v1.1h-1.1z" fill="#222" opacity="0.85"/>
<line x1="206.90" y1="162.50" x2="208.80" y2="162.50" stroke="#222" stroke-width="0.7" />
<path d="M204.70,162.00h1.5v1.9h-1.5zM203.30,160.50h1.1v1.1h-1.1z" fill="#222" opacity="0.85"/>
<line x1="218.80" y1="171.50" x2="218.80" y2="173.40" stroke="#222" stroke-width="0.7" />
<path d="M217.80,174.40h1.9v1.5h-1.9zM220.00,173.40h1.1v1.1h-1.1z" fill="#222" opacity="0.85"/>
<line x1="206.90" y1="153.80" x2="208.80" y2="153.80" stroke="#222" stroke-width="0.7" />
<path d="M204.70,153.30h1.5v1.9h-1.5zM203.30,151.80h1.1v1.1h-1.1z" fill="#222" opacity="0.85"/>
<line x1="228.50" y1="171.50" x2="228.50" y2="173.40" stroke="#222" stroke-width="0.7" />
<path d="M227.50,174.40h1.9v1.5h-1.9zM229.70,173.40h1.1v1.1h-1.1z" fill="#222" opacity="0.85"/>
<line x1="206.90" y1="145.10" x2="208.80" y2="145.10" stroke="#222" stroke-width="0.7" />
<path d="M204.70,144.60h1.5v1.9h-1.5zM203.30,143.10h1.1v1.1h-1.1z" fill="#222" opacity="0.85"/>
<line x1="238.20" y1="171.50" x2="238.20" y2="173.40" stroke="#222" stroke-width="0.7" />
<path d="M237.20,174.40h1.9v1.5h-1.9zM239.40,173.40h1.1v1.1h-1.1z" fill="#222" opacity="0.85"/>
<line x1="206.90" y1="136.40" x2="208.80" y2="136.40" stroke="#222" stroke-width="0.7" />
<path d="M204.70,135.90h1.5v1.9h-1.5zM203.30,134.40h1.1v1.1h-1.1z" fill="#222" opacity="0.85"/>
<line x1="247.90" y1="171.50" x2="247.90" y2="173.40" stroke="#222" stroke-width="0.7" />
<path d="M246.90,174.40h1.9v1.5h-1.9zM249.10,173.40h1.1v1.1h-1.1z" fill="#222" opacity="0.85"/>
<text transform="translate(246.60,142.60) scale(0.77,1)" font-size="7.0" text-anchor="end" font-weight="normal" font-style="normal" fill="#111" >9.76</text>
<path d="M209.1,171.2 L209.1,162.6 Q209.1,157.6 214.6,157.6 L216.5,157.6 Q221.5,157.6 221.5,162.6 L221.3,168.0 Q221.2,171.2 218.3,171.2Z" fill="#000"/>
<ellipse cx="231.0" cy="150.0" rx="4.6" ry="3.0" transform="rotate(-70 231.0 150.0)" fill="#000"/>
<path d="M52.2 56.9h.7M52.8 56.9h.7M57.0 55.9h.7M54.5 56.3h.7M59.6 54.5h.7M56.7 55.8h.7M64.0 53.0h.7M55.3 56.0h.7M53.5 56.4h.7M62.0 54.5h.7M54.0 55.8h.7M56.4 55.7h.7M58.6 55.5h.7M54.3 56.6h.7M60.3 54.7h.7M59.1 55.3h.7M57.4 55.6h.7M60.5 54.0h.7M54.8 55.8h.7M62.7 54.3h.7M60.9 54.7h.7M53.2 54.9h.7M57.0 56.1h.7M57.9 55.4h.7M52.2 56.6h.7M58.9 54.5h.7M62.7 54.3h.7M59.2 54.5h.7M59.0 54.2h.7M63.6 54.1h.7M57.7 55.8h.7M60.5 55.0h.7M59.9 54.0h.7M55.3 56.4h.7M56.6 56.1h.7M57.5 55.8h.7M53.8 56.6h.7M61.4 54.9h.7M53.3 56.9h.7M62.7 54.0h.7M52.7 56.2h.7M62.8 54.4h.7M62.0 54.5h.7M56.9 55.6h.7M56.2 54.8h.7M53.6 55.6h.7M53.9 56.7h.7M57.8 55.3h.7M59.1 55.6h.7M57.0 56.0h.7M56.4 54.5h.7M60.4 54.5h.7M58.2 55.0h.7M52.4 56.4h.7M63.0 54.4h.7M61.8 53.5h.7M56.6 55.9h.7M59.7 55.2h.7M52.5 56.6h.7M53.7 56.6h.7M56.0 56.3h.7M53.6 56.9h.7M53.0 56.9h.7M62.7 54.6h.7M59.4 55.2h.7M56.1 55.8h.7M56.3 55.2h.7M64.2 53.4h.7M57.6 55.6h.7M53.0 57.0h.7M62.7 57.7h.7M64.6 56.1h.7M64.3 54.8h.7M63.3 55.9h.7M63.1 59.5h.7M61.2 63.5h.7M61.5 62.5h.7M63.1 57.9h.7M63.1 56.1h.7M62.6 61.7h.7M62.8 57.6h.7M62.7 63.6h.7M61.9 62.4h.7M63.2 61.3h.7M63.6 56.7h.7M63.3 54.9h.7M63.4 54.9h.7M62.4 60.9h.7M63.1 63.3h.7M61.7 63.6h.7M61.5 63.3h.7M63.3 56.7h.7M63.2 56.4h.7M62.4 62.8h.7M62.7 62.2h.7M61.6 61.9h.7M64.2 55.4h.7M63.2 61.7h.7M62.1 61.4h.7M61.6 61.8h.7M63.3 57.6h.7M64.7 58.2h.7M63.7 58.3h.7M63.4 56.1h.7M64.1 55.8h.7M63.0 61.9h.7M64.1 55.9h.7M64.0 60.6h.7M62.9 57.8h.7M63.4 54.7h.7M63.6 49.4h.7M63.2 48.1h.7M57.7 46.5h.7M55.2 46.3h.7M55.7 52.0h.7M59.4 49.4h.7M55.8 50.7h.7M62.9 51.7h.7M56.8 46.6h.7M62.8 51.3h.7M57.5 47.9h.7M58.8 50.1h.7M58.7 47.7h.7M54.9 52.4h.7M52.9 52.1h.7M58.1 50.1h.7M60.9 48.8h.7M58.6 51.5h.7M59.0 52.5h.7M59.1 50.7h.7M55.6 51.6h.7M58.5 44.5h.7M59.1 52.3h.7M57.8 42.0h.7M59.6 47.0h.7M60.5 52.8h.7M57.9 47.4h.7M63.3 51.8h.7M60.6 44.5h.7M55.8 44.6h.7M68.2 50.8h.7M71.0 49.5h.7M71.8 49.8h.7M71.6 49.7h.7M72.4 49.4h.7M70.8 48.7h.7M72.1 50.0h.7M70.4 49.9h.7M72.4 48.0h.7M71.9 50.7h.7M70.0 50.7h.7M72.8 48.8h.7M71.6 50.0h.7M69.8 50.4h.7M110.7 54.8h.7M115.5 54.0h.7M112.9 54.3h.7M105.9 56.1h.7M102.9 56.8h.7M104.1 56.0h.7M108.0 54.5h.7M105.8 55.5h.7M104.4 55.7h.7M111.7 54.4h.7M103.6 55.7h.7M108.1 55.3h.7M103.4 55.8h.7M113.1 54.2h.7M103.5 56.6h.7M113.9 54.2h.7M108.4 55.1h.7M114.7 53.4h.7M106.0 55.6h.7M105.6 55.6h.7M103.9 56.5h.7M105.1 56.2h.7M106.5 55.6h.7M106.3 54.9h.7M109.1 55.2h.7M102.6 56.3h.7M105.7 55.0h.7M109.7 55.2h.7M104.9 54.7h.7M103.8 56.4h.7M113.3 53.7h.7M113.5 54.1h.7M107.6 54.7h.7M115.5 54.0h.7M107.0 55.4h.7M110.9 54.1h.7M107.8 55.6h.7M104.1 56.4h.7M103.3 56.8h.7M104.6 55.9h.7M103.5 55.9h.7M111.3 53.7h.7M106.1 56.1h.7M108.5 55.0h.7M104.5 56.0h.7M115.2 53.9h.7M115.3 53.5h.7M115.2 53.9h.7M106.5 56.0h.7M107.5 55.8h.7M108.7 55.1h.7M109.1 55.5h.7M102.5 57.0h.7M107.7 55.5h.7M103.0 56.2h.7M105.5 56.2h.7M110.2 54.0h.7M111.1 54.8h.7M111.9 54.3h.7M106.7 55.5h.7M115.5 53.3h.7M111.0 54.1h.7M103.0 56.1h.7M110.7 53.7h.7M112.2 54.6h.7M109.4 55.0h.7M109.1 54.8h.7M113.4 53.3h.7M110.2 54.3h.7M111.6 54.2h.7M114.5 56.4h.7M113.7 57.6h.7M115.0 55.2h.7M113.9 60.2h.7M113.3 60.1h.7M115.6 54.2h.7M112.4 61.8h.7M114.2 59.3h.7M114.1 60.5h.7M114.6 56.6h.7M114.6 54.9h.7M115.6 56.1h.7M113.6 61.2h.7M113.8 57.8h.7M113.9 58.8h.7M114.3 60.1h.7M113.3 60.3h.7M114.2 56.6h.7M112.9 61.3h.7M115.8 54.3h.7M114.7 54.8h.7M114.0 60.8h.7M113.0 60.6h.7M114.4 58.6h.7M114.7 58.6h.7M115.4 56.1h.7M112.0 63.5h.7M113.4 58.6h.7M113.3 62.0h.7M114.1 56.8h.7M114.7 56.2h.7M113.2 59.7h.7M116.5 55.5h.7M114.7 55.5h.7M114.2 62.0h.7M112.8 60.9h.7M114.9 56.4h.7M115.3 54.4h.7M115.7 54.2h.7M113.9 57.1h.7M105.1 50.6h.7M112.8 49.4h.7M103.6 53.0h.7M104.9 43.4h.7M113.8 50.5h.7M106.8 42.5h.7M110.1 41.6h.7M107.6 49.4h.7M104.1 51.2h.7M104.7 50.9h.7M113.9 49.5h.7M106.3 52.4h.7M105.7 47.0h.7M107.7 43.0h.7M112.5 50.2h.7M110.5 42.8h.7M109.6 46.8h.7M111.5 45.3h.7M108.6 50.5h.7M111.9 50.5h.7M104.1 49.8h.7M113.8 49.1h.7M107.4 48.9h.7M106.9 52.1h.7M110.8 51.0h.7M107.9 46.9h.7M105.4 51.2h.7M113.6 50.1h.7M109.1 51.0h.7M114.6 42.3h.7M108.5 50.9h.7M104.6 50.5h.7M121.0 50.6h.7M121.4 50.6h.7M119.0 50.7h.7M120.8 49.6h.7M120.3 51.1h.7M120.7 50.9h.7M121.9 50.0h.7M121.6 49.9h.7M119.7 50.9h.7M121.4 49.6h.7M121.3 50.7h.7M120.5 51.1h.7M122.7 48.9h.7M121.2 50.0h.7M122.7 49.6h.7M121.7 49.3h.7M121.1 50.2h.7M119.9 52.0h.7M121.4 48.7h.7M121.8 49.7h.7M121.7 50.2h.7M119.6 50.9h.7M122.3 49.1h.7M119.7 49.9h.7M119.6 59.2h.7M119.1 59.8h.7M119.3 60.3h.7M168.0 53.6h.7M163.7 54.5h.7M169.1 53.4h.7M167.1 54.3h.7M174.2 52.4h.7M167.3 53.1h.7M163.9 54.8h.7M170.6 52.0h.7M164.9 53.8h.7M170.1 53.8h.7M166.5 54.4h.7M173.7 52.3h.7M163.7 54.2h.7M166.5 54.3h.7M170.3 53.5h.7M171.1 52.5h.7M167.7 53.7h.7M165.0 52.8h.7M172.2 53.6h.7M171.4 53.2h.7M164.7 53.9h.7M163.2 54.7h.7M163.7 53.9h.7M174.1 52.8h.7M162.6 54.6h.7M174.4 53.0h.7M162.5 54.8h.7M166.1 54.4h.7M173.3 52.6h.7M174.8 52.4h.7M173.8 53.2h.7M173.9 53.0h.7M171.2 52.7h.7M165.9 54.3h.7M165.8 54.3h.7M160.5 54.9h.7M164.5 53.6h.7M162.3 53.5h.7M174.3 53.1h.7M172.2 52.9h.7M172.3 53.4h.7M167.3 54.2h.7M165.8 54.1h.7M165.7 54.3h.7M173.3 52.7h.7M172.1 53.5h.7M171.5 53.5h.7M161.4 55.1h.7M173.7 53.4h.7M173.3 52.2h.7M165.3 54.3h.7M169.3 52.2h.7M164.2 54.6h.7M164.4 54.1h.7M160.6 55.2h.7M169.6 52.3h.7M174.0 52.8h.7M167.3 54.2h.7M174.2 52.6h.7M164.1 54.6h.7M166.6 52.7h.7M163.1 54.9h.7M172.0 53.6h.7M171.6 52.3h.7M169.2 53.8h.7M165.7 54.0h.7M171.7 53.3h.7M171.3 53.5h.7M164.0 54.6h.7M168.4 54.1h.7M174.4 56.8h.7M170.3 63.6h.7M173.1 56.1h.7M172.1 58.5h.7M171.7 60.7h.7M172.4 57.7h.7M172.1 59.8h.7M171.9 62.1h.7M172.5 60.2h.7M173.9 56.4h.7M172.7 59.2h.7M174.1 55.5h.7M172.9 55.9h.7M171.0 62.5h.7M172.0 59.4h.7M170.8 63.6h.7M172.1 58.6h.7M172.9 60.1h.7M170.9 63.6h.7M171.3 61.8h.7M170.8 62.1h.7M172.8 56.4h.7M174.2 54.6h.7M173.8 59.4h.7M171.5 63.0h.7M173.4 58.0h.7M173.2 56.1h.7M175.5 54.5h.7M172.0 59.5h.7M172.8 57.2h.7M173.5 54.9h.7M172.2 59.6h.7M171.4 60.1h.7M172.7 56.8h.7M171.5 60.4h.7M173.7 55.5h.7M171.1 61.6h.7M173.5 54.4h.7M173.5 57.5h.7M173.9 54.3h.7M163.8 48.3h.7M167.5 43.4h.7M166.0 51.4h.7M166.0 46.8h.7M166.7 45.0h.7M174.2 52.0h.7M166.8 42.4h.7M172.2 42.4h.7M161.5 50.8h.7M167.7 49.8h.7M167.4 50.6h.7M168.2 42.0h.7M161.6 46.6h.7M170.9 50.9h.7M162.7 47.5h.7M166.9 46.1h.7M163.6 43.4h.7M169.1 51.1h.7M163.0 45.9h.7M173.3 51.6h.7M164.3 41.5h.7M175.4 51.7h.7M168.5 40.6h.7M175.1 44.7h.7M174.8 47.4h.7M173.6 41.9h.7M173.0 42.7h.7M167.4 50.2h.7M173.7 42.2h.7M164.6 44.8h.7M169.1 44.6h.7M163.2 43.0h.7M172.1 50.8h.7M162.0 46.7h.7M172.6 40.5h.7M173.8 41.4h.7M170.3 46.6h.7M170.7 43.7h.7M167.6 47.0h.7M167.7 47.9h.7M168.0 45.3h.7M161.7 47.4h.7M168.6 42.8h.7M172.7 49.4h.7M168.2 42.2h.7M168.4 41.3h.7M163.3 45.2h.7M162.8 45.3h.7M169.0 40.5h.7M170.8 41.0h.7M172.3 49.3h.7M169.0 40.7h.7M168.9 44.5h.7M175.5 41.6h.7M174.1 52.0h.7M172.2 49.8h.7M164.3 51.8h.7M168.7 51.5h.7M175.0 42.0h.7M173.1 51.2h.7M162.4 44.2h.7M172.6 41.9h.7M174.7 43.3h.7M173.5 41.7h.7M168.8 51.0h.7M164.5 43.2h.7M168.9 43.8h.7M161.9 42.2h.7M163.8 51.2h.7M171.5 50.7h.7M163.9 49.4h.7M163.1 46.4h.7M170.8 44.3h.7M174.3 46.7h.7M170.0 50.6h.7M189.0 43.5h.7M178.4 47.3h.7M180.9 45.4h.7M184.3 43.9h.7M178.7 50.0h.7M179.4 48.0h.7M180.5 46.3h.7M181.2 45.3h.7M174.2 48.2h.7M176.8 48.4h.7M180.8 46.7h.7M182.4 45.6h.7M178.1 47.5h.7M174.9 50.7h.7M182.5 46.1h.7M180.3 46.7h.7M183.4 44.7h.7M183.2 45.7h.7M182.3 47.4h.7M179.0 47.4h.7M178.0 47.4h.7M186.3 45.2h.7M181.3 47.1h.7M184.6 45.0h.7M183.2 43.0h.7M179.4 48.3h.7M184.8 43.8h.7M178.2 48.0h.7M178.4 47.1h.7M184.5 43.0h.7M182.4 48.7h.7M184.3 44.6h.7M179.4 48.2h.7M185.7 44.0h.7M184.3 44.2h.7M182.1 45.4h.7M182.9 47.0h.7M176.8 49.4h.7M181.1 45.6h.7M180.5 48.0h.7M186.7 43.2h.7M180.6 44.4h.7M186.1 42.8h.7M179.9 45.6h.7M179.9 45.7h.7M181.3 46.9h.7M181.1 46.8h.7M179.5 49.7h.7M177.7 46.1h.7M179.7 46.2h.7M177.8 48.3h.7M180.8 44.9h.7M181.4 48.3h.7M182.6 45.1h.7M181.1 46.2h.7M181.2 47.4h.7M178.8 44.5h.7M180.1 45.8h.7M182.2 44.7h.7M182.7 48.4h.7M177.1 47.6h.7M175.2 47.1h.7M175.9 50.7h.7M177.7 46.1h.7M177.2 50.2h.7M178.4 47.8h.7M182.7 47.3h.7M186.9 43.7h.7M181.3 46.5h.7M186.8 44.4h.7M180.3 47.7h.7M181.6 46.1h.7M178.5 46.3h.7M178.2 46.2h.7M184.5 44.7h.7M178.5 50.4h.7M181.9 43.0h.7M186.4 43.7h.7M185.6 41.3h.7M182.6 45.9h.7M181.5 46.4h.7M182.6 43.0h.7M176.4 47.7h.7M178.8 47.1h.7M182.0 46.1h.7M180.4 45.9h.7M180.3 48.4h.7M183.0 45.2h.7M181.0 48.8h.7M179.6 48.4h.7M183.8 44.0h.7M182.3 43.9h.7M183.7 44.8h.7M176.9 50.4h.7M179.3 49.6h.7M178.8 47.8h.7M181.3 45.7h.7M181.1 45.5h.7M182.6 45.3h.7M179.4 43.5h.7M184.0 44.3h.7M176.0 50.3h.7M182.8 46.7h.7M178.9 50.3h.7M182.1 49.2h.7M180.9 47.6h.7M179.0 46.3h.7M184.5 45.3h.7M185.6 44.3h.7M178.1 46.1h.7M178.5 47.2h.7M179.0 48.8h.7M181.5 45.7h.7M181.2 46.1h.7M181.9 46.9h.7M183.0 44.0h.7M177.7 51.0h.7M181.9 47.4h.7M176.1 49.6h.7M179.9 45.1h.7M175.5 51.9h.7M177.8 50.9h.7M174.0 51.0h.7M176.8 51.1h.7M175.3 50.0h.7M177.0 50.7h.7M176.1 50.2h.7M176.5 51.2h.7M174.1 50.4h.7M176.3 51.0h.7M176.2 51.5h.7M175.0 51.5h.7M175.6 51.6h.7M177.4 49.3h.7M178.8 49.9h.7M176.9 50.6h.7M177.6 49.2h.7M175.0 50.5h.7M176.9 51.4h.7M176.5 50.7h.7M175.6 51.3h.7M174.6 53.0h.7M174.7 50.7h.7M174.4 51.2h.7M177.2 50.8h.7M179.9 58.1h.7M181.4 57.0h.7M222.0 52.3h.7M216.3 53.4h.7M214.3 54.7h.7M215.8 54.2h.7M221.0 52.8h.7M213.4 54.1h.7M215.9 53.5h.7M215.7 54.2h.7M219.5 53.1h.7M219.2 53.4h.7M220.9 52.4h.7M223.7 51.8h.7M210.3 55.5h.7M221.0 53.0h.7M223.3 52.1h.7M218.0 53.8h.7M217.5 53.8h.7M218.9 52.7h.7M221.7 52.1h.7M223.4 52.3h.7M212.8 55.0h.7M220.7 52.5h.7M211.6 54.9h.7M210.6 55.8h.7M213.7 54.9h.7M215.8 54.4h.7M215.8 54.2h.7M213.6 54.4h.7M213.0 55.1h.7M217.3 52.3h.7M212.9 55.0h.7M212.8 54.6h.7M211.6 55.4h.7M218.9 52.3h.7M216.5 53.8h.7M223.6 52.2h.7M214.8 53.8h.7M221.5 51.9h.7M216.5 54.0h.7M211.6 54.7h.7M221.7 52.0h.7M213.6 53.9h.7M215.2 54.6h.7M212.5 54.6h.7M209.8 56.0h.7M213.3 54.6h.7M214.1 54.1h.7M218.9 53.5h.7M219.2 52.4h.7M222.0 51.5h.7M210.6 55.1h.7M221.0 51.6h.7M211.8 55.0h.7M210.0 55.1h.7M210.0 55.0h.7M213.4 54.8h.7M211.3 55.4h.7M220.9 52.7h.7M214.8 53.8h.7M221.1 51.7h.7M212.2 54.7h.7M221.0 52.4h.7M219.4 52.5h.7M221.8 52.0h.7M212.6 55.0h.7M220.4 52.4h.7M216.1 53.7h.7M213.6 54.4h.7M213.1 54.6h.7M210.6 55.2h.7M222.2 57.7h.7M222.3 58.1h.7M221.4 58.5h.7M220.5 61.9h.7M222.8 57.7h.7M220.9 61.9h.7M223.9 56.7h.7M224.0 53.3h.7M221.2 59.6h.7M221.3 59.3h.7M221.6 60.1h.7M220.3 63.5h.7M223.4 58.2h.7M223.2 52.9h.7M221.4 60.5h.7M220.9 62.2h.7M223.0 56.6h.7M220.8 61.1h.7M223.3 54.9h.7M221.7 58.7h.7M220.9 61.8h.7M223.4 57.0h.7M221.6 58.1h.7M221.0 63.4h.7M221.2 59.8h.7M222.9 56.1h.7M223.2 55.9h.7M221.3 61.3h.7M223.3 52.9h.7M223.2 58.6h.7M223.0 53.1h.7M222.6 54.6h.7M221.2 62.8h.7M221.4 61.3h.7M221.1 62.7h.7M221.9 59.5h.7M222.0 60.3h.7M223.2 54.9h.7M222.4 60.0h.7M223.2 53.6h.7M213.9 40.9h.7M221.6 50.6h.7M220.0 44.6h.7M222.2 49.2h.7M218.8 43.3h.7M215.4 45.1h.7M215.6 45.2h.7M219.8 50.8h.7M212.2 46.7h.7M212.0 41.8h.7M222.0 46.8h.7M223.4 45.4h.7M211.7 44.8h.7M219.2 50.8h.7M224.3 45.7h.7M216.9 41.6h.7M219.9 42.8h.7M213.5 40.7h.7M211.6 48.0h.7M213.1 51.1h.7M212.6 50.1h.7M213.2 40.7h.7M220.9 43.2h.7M221.0 42.6h.7M212.2 49.0h.7M220.8 49.9h.7M221.0 41.4h.7M219.7 48.3h.7M217.5 50.8h.7M214.8 51.1h.7M220.8 40.6h.7M211.7 47.7h.7M222.1 41.4h.7M215.5 48.5h.7M213.7 50.0h.7M217.8 41.2h.7M216.3 46.8h.7M217.2 47.9h.7M213.4 49.3h.7M216.2 47.6h.7M219.7 45.1h.7M216.5 49.1h.7M223.8 49.1h.7M218.9 43.7h.7M212.3 51.2h.7M227.2 46.2h.7M229.3 50.2h.7M237.2 42.0h.7M227.8 48.1h.7M224.7 52.9h.7M227.7 51.0h.7M223.5 49.7h.7M231.1 45.3h.7M233.5 45.0h.7M227.0 50.7h.7M232.1 42.5h.7M237.7 43.0h.7M231.8 42.8h.7M227.8 48.4h.7M233.3 42.5h.7M225.8 46.7h.7M230.1 48.0h.7M224.1 50.5h.7M233.9 47.7h.7M232.8 45.0h.7M225.6 48.8h.7M228.4 48.9h.7M232.0 49.2h.7M230.8 45.0h.7M237.1 44.3h.7M230.4 45.9h.7M223.1 50.5h.7M233.3 43.7h.7M226.1 50.6h.7M232.1 47.1h.7M234.3 47.1h.7M228.5 50.3h.7M227.7 50.3h.7M231.6 46.8h.7M234.2 44.5h.7M235.5 45.3h.7M230.7 46.0h.7M227.5 48.3h.7M229.9 47.5h.7M242.0 40.3h.7M232.7 44.0h.7M227.9 48.4h.7M230.5 45.2h.7M236.0 42.2h.7M232.6 41.4h.7M230.9 47.4h.7M231.9 47.3h.7M231.8 46.5h.7M223.3 50.9h.7M222.8 53.7h.7M231.6 46.0h.7M227.2 48.4h.7M238.8 44.5h.7M231.6 48.7h.7M223.3 48.6h.7M228.2 47.1h.7M228.8 48.6h.7M241.0 38.6h.7M231.1 47.2h.7M231.4 48.2h.7M236.0 41.0h.7M231.1 46.3h.7M230.7 44.2h.7M222.4 48.6h.7M232.8 45.9h.7M228.9 43.9h.7M228.7 47.0h.7M224.8 49.4h.7M233.7 45.9h.7M231.1 47.7h.7M228.6 48.6h.7M231.3 47.6h.7M230.3 47.0h.7M229.7 46.5h.7M239.2 42.0h.7M234.2 48.7h.7M234.4 41.5h.7M233.9 46.3h.7M238.6 43.9h.7M232.5 43.6h.7M227.8 49.5h.7M231.6 44.5h.7M229.0 47.5h.7M231.2 47.3h.7M228.6 46.2h.7M236.6 45.8h.7M231.2 48.5h.7M232.9 46.7h.7M231.8 44.8h.7M233.6 46.8h.7M229.2 51.7h.7M239.8 44.0h.7M238.5 42.9h.7M229.0 47.1h.7M227.9 49.2h.7M231.2 47.9h.7M225.4 54.9h.7M238.9 41.2h.7M233.5 45.9h.7M231.5 46.1h.7M229.5 46.3h.7M231.3 46.5h.7M231.1 45.1h.7M230.9 47.0h.7M232.0 44.2h.7M233.1 47.2h.7M232.5 45.0h.7M228.7 47.9h.7M234.7 47.1h.7M229.6 46.6h.7M232.2 46.3h.7M226.8 48.4h.7M230.9 48.1h.7M225.5 48.8h.7M231.4 44.2h.7M231.4 47.2h.7M229.4 46.0h.7M230.2 46.7h.7M231.2 45.1h.7M233.2 42.2h.7M230.1 47.5h.7M233.6 43.8h.7M232.2 44.9h.7M234.9 47.3h.7M229.6 48.6h.7M228.2 50.5h.7M235.1 44.0h.7M227.0 50.4h.7M235.8 45.4h.7M232.1 42.7h.7M229.5 50.5h.7M227.3 51.5h.7M238.1 43.2h.7M234.5 43.8h.7M226.2 50.0h.7M229.9 47.4h.7M233.1 45.1h.7M231.8 47.0h.7M232.3 49.3h.7M232.4 46.0h.7M229.4 46.8h.7M235.7 43.8h.7M226.3 49.0h.7M229.8 46.8h.7M233.6 42.8h.7M232.6 45.9h.7M226.5 50.0h.7M230.8 47.9h.7M229.3 48.5h.7M223.8 49.9h.7M234.4 46.3h.7M230.1 46.3h.7M232.8 41.7h.7M228.4 49.8h.7M232.2 44.1h.7M225.1 53.5h.7M230.5 45.5h.7M231.7 48.0h.7M222.3 54.9h.7M231.6 42.6h.7M232.0 42.9h.7M235.2 44.6h.7M238.3 40.6h.7M231.6 48.3h.7M227.8 47.7h.7M229.3 47.8h.7M227.2 50.3h.7M232.7 45.7h.7M236.5 42.3h.7M234.9 43.0h.7M231.8 42.7h.7M231.3 46.3h.7M228.4 47.5h.7M228.8 47.0h.7M222.3 51.8h.7M228.3 47.7h.7M226.8 49.5h.7M233.3 44.7h.7M230.1 49.9h.7M235.0 45.7h.7M234.6 43.7h.7M231.2 48.7h.7M228.6 48.2h.7M232.4 46.5h.7M230.5 48.9h.7M230.7 48.3h.7M235.1 45.1h.7M232.3 43.7h.7M225.4 49.5h.7M233.7 47.6h.7M226.6 50.5h.7M227.0 48.3h.7M230.3 48.5h.7M232.5 47.9h.7M227.9 50.6h.7M234.1 44.7h.7M231.9 45.1h.7M226.4 49.2h.7M230.9 52.2h.7M230.4 50.3h.7M231.7 46.9h.7M232.7 44.2h.7M234.3 45.2h.7M225.8 51.6h.7M233.1 46.2h.7M236.1 42.5h.7M233.2 46.6h.7M228.5 50.7h.7M224.4 49.1h.7M231.6 44.3h.7M228.9 45.3h.7M230.0 45.4h.7M230.6 44.3h.7M232.1 45.5h.7M230.9 46.8h.7M230.0 45.0h.7M221.5 53.5h.7M226.9 48.8h.7M230.5 43.5h.7M227.4 48.2h.7M227.2 50.1h.7M229.5 46.3h.7M227.8 50.5h.7M228.8 49.4h.7M230.7 43.5h.7M226.8 49.7h.7M232.6 47.1h.7M234.5 46.2h.7M229.2 47.7h.7M233.1 44.5h.7M225.4 48.6h.7M225.8 50.1h.7M222.9 54.0h.7M225.4 50.7h.7M223.2 51.9h.7M226.5 48.6h.7M219.7 54.4h.7M223.3 52.3h.7M223.9 50.8h.7M224.5 52.8h.7M224.3 54.2h.7M223.5 50.8h.7M226.4 50.5h.7M224.0 52.8h.7M221.9 52.4h.7M226.4 49.5h.7M223.5 52.9h.7M226.2 49.9h.7M222.3 52.8h.7M226.1 51.1h.7M227.4 48.7h.7M224.3 51.5h.7M226.1 48.9h.7M225.0 47.4h.7M225.7 49.6h.7M226.1 51.0h.7M223.3 52.3h.7M225.7 51.2h.7M223.1 51.3h.7M224.0 55.2h.7M224.6 51.1h.7M223.5 53.4h.7M225.2 52.7h.7M226.2 50.0h.7M225.3 49.3h.7M224.2 50.9h.7M223.3 52.5h.7M225.7 52.3h.7M220.0 54.4h.7M223.4 51.7h.7M225.8 50.8h.7M224.7 50.6h.7M225.9 50.7h.7M222.3 52.9h.7M222.3 51.7h.7M225.2 50.9h.7M224.6 50.2h.7M224.1 50.5h.7M226.0 51.1h.7M228.2 49.9h.7M223.6 51.6h.7M223.9 52.3h.7M228.2 49.2h.7M221.2 52.6h.7M223.6 52.9h.7M225.2 51.2h.7M226.9 48.3h.7M225.1 53.5h.7M225.0 50.0h.7M221.2 52.2h.7M58.4 125.5h.7M57.6 117.4h.7M58.3 123.7h.7M56.5 123.1h.7M61.6 120.0h.7M56.3 119.9h.7M54.1 119.8h.7M56.9 121.8h.7M56.3 123.6h.7M59.4 124.4h.7M58.3 122.0h.7M56.2 117.0h.7M61.0 122.8h.7M59.3 118.6h.7M59.0 118.1h.7M55.2 120.6h.7M56.1 121.5h.7M57.3 117.2h.7M62.7 117.0h.7M56.1 123.4h.7M55.9 118.7h.7M59.7 119.0h.7M52.9 120.3h.7M53.6 125.4h.7M54.9 119.0h.7M56.8 122.0h.7M62.4 124.6h.7M55.0 125.1h.7M57.7 122.4h.7M57.1 123.9h.7M62.9 126.2h.7M57.3 125.5h.7M64.3 116.3h.7M64.4 114.4h.7M60.5 123.6h.7M64.5 122.1h.7M56.2 116.9h.7M52.9 124.4h.7M57.2 117.3h.7M60.4 117.1h.7M56.4 118.6h.7M57.5 113.2h.7M59.4 121.1h.7M59.7 123.5h.7M56.8 125.2h.7M61.7 121.8h.7M56.5 118.4h.7M61.1 115.5h.7M57.5 117.2h.7M52.3 123.6h.7M58.1 120.9h.7M61.9 113.6h.7M57.9 122.1h.7M61.7 115.6h.7M61.2 121.8h.7M63.9 126.2h.7M58.2 118.7h.7M56.8 116.2h.7M58.1 111.8h.7M57.8 122.8h.7M62.4 119.1h.7M64.1 117.6h.7M57.6 111.8h.7M55.0 117.0h.7M64.4 123.2h.7M53.7 123.2h.7M60.2 119.7h.7M58.3 119.3h.7M56.0 112.5h.7M64.1 119.4h.7M55.1 119.8h.7M61.9 122.4h.7M55.8 122.4h.7M57.4 123.2h.7M56.5 113.9h.7M58.4 124.3h.7M53.6 120.2h.7M61.8 119.0h.7M61.6 125.5h.7M54.4 117.7h.7M59.0 111.8h.7M60.8 123.4h.7M56.4 123.3h.7M61.4 122.2h.7M56.2 121.5h.7M56.1 125.6h.7M56.5 123.0h.7M58.8 121.1h.7M65.2 120.4h.7M64.0 124.6h.7M63.6 120.0h.7M62.0 124.3h.7M55.7 122.0h.7M57.7 120.6h.7M63.5 117.4h.7M56.4 117.8h.7M58.3 123.4h.7M65.4 122.2h.7M60.1 117.4h.7M63.7 111.7h.7M61.6 113.8h.7M57.0 123.5h.7M59.9 117.0h.7M54.6 125.2h.7M58.3 122.1h.7M52.8 118.0h.7M61.0 114.0h.7M66.6 114.3h.7M53.2 120.9h.7M60.2 124.1h.7M56.7 119.8h.7M57.2 118.1h.7M59.2 121.5h.7M55.7 121.9h.7M58.1 120.4h.7M62.7 112.8h.7M59.2 115.8h.7M53.8 120.3h.7M55.8 125.1h.7M54.2 113.0h.7M60.3 119.1h.7M56.9 125.7h.7M54.6 119.0h.7M58.8 122.7h.7M56.1 125.5h.7M67.3 118.9h.7M65.8 111.1h.7M63.9 119.2h.7M58.8 119.2h.7M55.6 114.9h.7M62.8 119.1h.7M56.1 117.5h.7M60.9 121.3h.7M56.2 116.1h.7M63.5 124.3h.7M54.3 125.3h.7M53.7 123.7h.7M54.3 118.8h.7M60.2 122.7h.7M62.3 116.9h.7M58.2 122.9h.7M55.0 120.0h.7M52.9 121.2h.7M62.0 124.5h.7M56.7 119.7h.7M56.8 121.8h.7M58.3 118.4h.7M64.9 120.3h.7M64.6 126.1h.7M56.2 122.6h.7M63.5 119.2h.7M58.6 118.2h.7M58.4 119.1h.7M58.5 125.4h.7M63.8 121.4h.7M59.0 124.7h.7M57.0 115.9h.7M62.7 116.5h.7M62.0 116.3h.7M65.6 116.0h.7M54.9 112.6h.7M61.1 124.0h.7M57.4 109.1h.7M58.0 119.3h.7M56.7 119.4h.7M56.7 117.5h.7M59.8 125.6h.7M61.1 115.4h.7M58.9 121.4h.7M64.0 126.2h.7M60.3 126.3h.7M56.5 122.6h.7M61.9 116.6h.7M55.4 112.7h.7M58.9 120.5h.7M56.9 123.0h.7M58.6 119.5h.7M56.4 116.4h.7M55.8 121.2h.7M60.6 116.8h.7M62.2 116.0h.7M61.5 122.7h.7M57.1 120.0h.7M60.1 124.7h.7M52.8 122.0h.7M55.2 123.6h.7M63.7 121.0h.7M57.8 121.6h.7M60.5 121.5h.7M56.6 117.4h.7M57.5 126.3h.7M59.3 120.7h.7M63.3 114.8h.7M54.2 115.7h.7M56.0 123.7h.7M60.6 111.4h.7M64.1 118.0h.7M57.9 115.1h.7M55.6 117.4h.7M54.1 119.2h.7M61.8 122.4h.7M54.2 121.3h.7M58.3 124.3h.7M56.9 122.8h.7M66.7 121.2h.7M53.8 122.3h.7M54.9 119.0h.7M59.0 122.3h.7M57.0 124.6h.7M57.4 114.8h.7M61.8 119.1h.7M63.1 117.7h.7M60.5 122.2h.7M62.6 123.0h.7M60.9 118.5h.7M58.2 121.8h.7M59.9 124.0h.7M57.4 117.5h.7M55.9 122.6h.7M56.5 118.2h.7M57.1 108.5h.7M56.8 119.6h.7M61.3 111.7h.7M57.0 122.9h.7M60.2 126.2h.7M62.5 115.9h.7M60.8 119.2h.7M55.6 116.8h.7M56.5 116.8h.7M62.3 122.5h.7M63.9 122.6h.7M55.7 125.6h.7M55.5 118.6h.7M57.5 120.9h.7M63.0 118.0h.7M59.6 120.6h.7M53.1 115.7h.7M57.3 122.6h.7M59.5 123.0h.7M58.4 118.7h.7M59.9 116.1h.7M52.7 119.2h.7M52.4 118.4h.7M55.2 118.2h.7M58.0 117.1h.7M56.5 112.9h.7M58.8 116.7h.7M59.8 107.7h.7M54.9 121.9h.7M59.6 109.6h.7M55.7 99.5h.7M59.2 106.5h.7M62.1 103.3h.7M64.3 101.9h.7M62.0 100.4h.7M72.9 118.5h.7M73.9 119.6h.7M70.8 117.5h.7M73.5 117.1h.7M72.6 119.8h.7M71.6 111.0h.7M72.1 118.9h.7M72.1 115.9h.7M74.0 117.8h.7M70.8 116.0h.7M72.5 114.8h.7M70.2 124.4h.7M74.2 121.5h.7M74.3 120.0h.7M69.0 121.9h.7M74.1 119.7h.7M68.5 122.0h.7M74.3 116.7h.7M72.1 120.6h.7M71.8 121.6h.7M109.3 123.9h.7M109.4 113.6h.7M111.3 117.8h.7M109.1 111.5h.7M108.2 124.9h.7M105.1 117.5h.7M110.8 118.2h.7M118.1 108.6h.7M108.7 121.6h.7M118.4 121.2h.7M111.1 122.3h.7M108.2 118.7h.7M107.1 110.7h.7M110.1 120.4h.7M108.6 119.3h.7M105.9 120.5h.7M107.2 121.6h.7M122.0 122.5h.7M112.6 124.5h.7M112.0 124.5h.7M106.9 120.6h.7M106.0 125.2h.7M112.5 118.4h.7M114.2 115.3h.7M108.6 123.6h.7M108.9 122.4h.7M113.9 122.2h.7M104.4 124.0h.7M108.6 121.1h.7M106.6 114.0h.7M103.8 118.9h.7M104.5 107.7h.7M113.8 115.1h.7M106.0 123.1h.7M105.8 123.7h.7M107.0 122.1h.7M109.4 120.6h.7M106.7 123.1h.7M109.7 122.9h.7M113.1 113.5h.7M110.1 119.8h.7M107.7 116.5h.7M105.7 115.7h.7M116.1 120.6h.7M112.1 115.9h.7M108.8 115.8h.7M108.0 115.8h.7M103.2 119.5h.7M107.3 116.7h.7M105.3 116.2h.7M104.2 119.8h.7M109.4 123.3h.7M113.7 118.0h.7M103.8 119.7h.7M110.2 117.3h.7M103.1 122.3h.7M113.3 111.4h.7M109.9 119.5h.7M109.9 118.3h.7M110.9 123.7h.7M112.2 123.4h.7M110.7 115.0h.7M107.2 121.2h.7M107.4 115.6h.7M109.1 117.8h.7M107.3 116.4h.7M105.9 120.1h.7M106.3 123.8h.7M108.4 121.2h.7M111.5 121.7h.7M108.3 116.8h.7M107.6 123.9h.7M109.9 118.7h.7M103.4 113.3h.7M110.3 125.5h.7M110.6 114.0h.7M108.1 121.7h.7M105.2 122.3h.7M108.2 116.6h.7M103.8 124.5h.7M110.5 116.4h.7M104.8 124.8h.7M111.5 119.1h.7M115.7 119.2h.7M104.6 125.8h.7M108.2 122.2h.7M109.2 115.8h.7M104.0 119.7h.7M114.9 115.8h.7M114.7 121.7h.7M104.4 121.9h.7M111.4 116.3h.7M104.4 122.7h.7M105.6 113.5h.7M108.0 121.4h.7M106.7 115.0h.7M109.9 112.3h.7M111.2 122.9h.7M116.0 124.8h.7M110.5 121.9h.7M109.1 114.3h.7M115.1 123.1h.7M107.8 115.1h.7M115.2 123.1h.7M104.1 123.8h.7M116.9 120.5h.7M110.7 118.6h.7M106.4 125.7h.7M121.8 121.2h.7M108.5 124.4h.7M107.7 124.1h.7M112.5 115.8h.7M104.5 120.2h.7M112.5 121.9h.7M114.2 114.1h.7M111.1 117.6h.7M109.4 122.1h.7M105.0 119.5h.7M104.2 121.9h.7M105.5 118.3h.7M109.9 117.5h.7M113.8 117.6h.7M112.5 121.9h.7M104.7 119.6h.7M105.5 118.9h.7M110.9 114.4h.7M113.3 122.5h.7M108.1 119.4h.7M110.1 119.2h.7M106.8 118.8h.7M113.9 117.7h.7M110.6 115.1h.7M106.0 114.1h.7M108.2 123.8h.7M110.3 118.3h.7M111.5 119.0h.7M110.5 121.9h.7M111.3 108.9h.7M103.6 124.3h.7M108.0 118.0h.7M115.2 123.2h.7M116.9 123.0h.7M108.2 124.0h.7M105.7 118.5h.7M106.7 119.5h.7M112.2 118.3h.7M110.3 118.2h.7M112.7 107.6h.7M108.1 121.4h.7M104.5 125.4h.7M113.0 123.6h.7M108.4 115.5h.7M108.1 118.4h.7M110.0 118.4h.7M121.7 113.0h.7M113.9 118.4h.7M108.0 125.0h.7M109.0 114.9h.7M110.7 119.7h.7M104.6 117.1h.7M111.0 122.0h.7M110.7 117.7h.7M110.0 120.0h.7M108.2 119.3h.7M106.7 125.2h.7M108.5 122.4h.7M107.2 119.8h.7M105.1 117.5h.7M114.0 121.8h.7M114.1 124.7h.7M112.8 125.3h.7M106.5 124.4h.7M107.7 118.1h.7M112.4 116.6h.7M110.1 122.4h.7M110.6 118.9h.7M103.7 120.7h.7M112.6 124.3h.7M111.7 125.8h.7M104.9 120.4h.7M110.4 125.3h.7M109.6 123.0h.7M119.2 121.7h.7M103.1 117.4h.7M110.9 123.8h.7M113.2 121.5h.7M105.5 120.1h.7M110.4 119.3h.7M106.2 118.9h.7M102.8 115.8h.7M108.6 118.9h.7M110.2 120.4h.7M104.2 115.5h.7M110.6 116.5h.7M110.8 115.5h.7M109.6 120.3h.7M113.1 118.8h.7M107.5 121.8h.7M107.9 118.1h.7M107.7 122.8h.7M110.0 123.9h.7M116.6 120.5h.7M104.0 121.3h.7M110.7 110.1h.7M109.1 113.6h.7M113.3 113.5h.7M114.7 124.9h.7M107.5 123.0h.7M115.3 119.0h.7M108.9 118.0h.7M113.8 110.5h.7M114.9 116.0h.7M112.8 112.9h.7M105.1 117.8h.7M112.4 113.0h.7M111.5 117.6h.7M114.1 119.1h.7M111.0 119.8h.7M116.4 118.9h.7M109.3 123.8h.7M106.0 121.5h.7M106.3 113.5h.7M103.2 126.0h.7M110.8 113.5h.7M116.5 117.3h.7M107.5 121.8h.7M104.3 113.0h.7M105.9 126.2h.7M112.9 113.2h.7M114.0 120.8h.7M111.1 120.8h.7M110.7 115.9h.7M105.2 117.3h.7M107.5 123.5h.7M106.4 117.8h.7M111.9 122.6h.7M107.6 115.6h.7M104.9 113.1h.7M113.7 125.7h.7M116.7 122.9h.7M110.4 124.2h.7M112.9 119.4h.7M107.3 109.5h.7M111.2 109.5h.7M109.0 106.8h.7M114.7 106.8h.7M115.0 104.7h.7M123.3 115.7h.7M123.0 117.2h.7M124.1 123.2h.7M121.3 118.6h.7M123.0 119.8h.7M124.0 119.3h.7M123.8 114.6h.7M121.4 121.7h.7M124.2 114.6h.7M124.2 119.0h.7M120.6 119.6h.7M122.0 120.3h.7M122.3 115.2h.7M121.5 116.6h.7M124.0 115.4h.7M121.2 123.0h.7M124.8 119.1h.7M122.5 113.9h.7M121.4 118.7h.7M124.3 114.3h.7M123.0 116.5h.7M122.8 118.6h.7M125.0 115.5h.7M123.8 120.1h.7M166.4 119.7h.7M161.6 125.6h.7M165.3 117.2h.7M168.0 116.2h.7M162.9 119.0h.7M174.5 119.4h.7M170.1 113.3h.7M165.9 112.9h.7M167.2 123.4h.7M168.9 115.9h.7M171.3 125.1h.7M169.7 118.3h.7M167.5 117.3h.7M167.1 121.9h.7M166.3 125.1h.7M179.6 117.7h.7M169.3 124.4h.7M170.6 119.2h.7M165.5 125.3h.7M170.6 122.9h.7M164.0 123.5h.7M171.3 119.5h.7M162.3 113.8h.7M166.6 123.1h.7M167.9 114.7h.7M161.1 117.7h.7M167.8 116.4h.7M163.9 119.6h.7M165.2 117.5h.7M167.9 118.9h.7M170.5 114.6h.7M167.4 124.1h.7M173.1 123.1h.7M167.9 112.8h.7M170.8 123.2h.7M162.9 114.6h.7M168.4 115.4h.7M175.0 117.4h.7M165.1 124.6h.7M169.2 116.0h.7M162.1 119.2h.7M162.8 110.9h.7M170.6 123.8h.7M172.2 122.5h.7M164.6 114.6h.7M162.6 124.1h.7M169.9 111.1h.7M171.8 126.5h.7M167.8 114.5h.7M175.8 114.0h.7M167.3 111.1h.7M161.9 112.1h.7M172.7 126.2h.7M165.8 113.8h.7M167.4 122.3h.7M167.2 123.9h.7M168.0 122.6h.7M161.9 108.2h.7M169.1 115.9h.7M167.1 118.5h.7M169.9 116.6h.7M174.4 120.6h.7M170.1 123.5h.7M172.5 122.4h.7M176.3 122.7h.7M170.3 122.7h.7M164.7 117.1h.7M164.7 126.1h.7M169.8 114.6h.7M175.8 122.1h.7M173.2 121.5h.7M166.2 121.2h.7M162.5 114.5h.7M163.6 117.8h.7M161.4 119.9h.7M176.2 120.2h.7M171.8 119.3h.7M169.5 120.2h.7M165.2 120.8h.7M160.8 122.6h.7M166.4 115.0h.7M166.0 123.1h.7M164.5 122.8h.7M162.6 119.8h.7M168.9 124.1h.7M160.9 117.5h.7M175.4 119.0h.7M177.8 116.8h.7M166.4 112.5h.7M170.7 121.7h.7M177.1 121.2h.7M166.5 113.4h.7M167.3 125.1h.7M171.2 126.5h.7M171.7 120.2h.7M170.5 121.3h.7M169.5 115.2h.7M169.5 121.8h.7M174.9 115.7h.7M169.3 122.1h.7M162.5 118.1h.7M168.6 124.1h.7M178.0 121.9h.7M164.9 108.6h.7M172.7 119.7h.7M167.2 115.5h.7M171.1 111.5h.7M168.2 121.0h.7M167.2 120.9h.7M171.7 112.7h.7M166.3 120.7h.7M172.2 116.4h.7M171.5 122.3h.7M160.7 113.0h.7M161.0 121.1h.7M168.7 124.0h.7M171.6 117.6h.7M172.7 124.5h.7M169.9 122.8h.7M161.6 122.2h.7M162.8 114.4h.7M166.1 121.1h.7M167.4 118.7h.7M163.0 121.3h.7M164.2 113.3h.7M165.8 115.1h.7M166.3 119.3h.7M168.3 125.4h.7M169.8 111.3h.7M162.5 114.2h.7M169.7 120.9h.7M176.1 119.0h.7M169.2 120.8h.7M173.8 117.4h.7M170.9 118.5h.7M168.2 121.2h.7M167.8 118.0h.7M175.0 119.1h.7M170.7 125.6h.7M174.3 125.9h.7M175.8 113.2h.7M176.9 120.5h.7M161.1 120.3h.7M169.1 121.2h.7M163.9 119.2h.7M167.2 120.8h.7M167.7 119.3h.7M171.9 112.3h.7M165.4 121.1h.7M165.8 117.6h.7M165.6 121.5h.7M173.6 119.5h.7M166.4 122.2h.7M166.6 110.7h.7M169.0 118.5h.7M165.0 123.6h.7M167.9 117.6h.7M167.8 119.8h.7M169.8 121.5h.7M165.4 114.0h.7M162.5 119.7h.7M162.3 124.2h.7M161.4 111.4h.7M166.8 111.5h.7M175.4 115.4h.7M167.5 119.2h.7M163.8 111.5h.7M160.8 123.2h.7M167.6 124.7h.7M165.3 124.0h.7M171.9 123.5h.7M174.6 119.5h.7M175.0 116.9h.7M175.6 106.6h.7M167.8 116.4h.7M167.7 125.6h.7M171.1 120.9h.7M175.8 113.0h.7M169.3 109.9h.7M169.3 114.4h.7M174.7 126.2h.7M163.8 125.0h.7M170.4 119.8h.7M161.0 119.0h.7M163.1 108.1h.7M170.5 122.3h.7M171.4 120.7h.7M164.6 105.5h.7M170.0 125.2h.7M164.9 113.3h.7M167.5 112.0h.7M167.7 124.3h.7M174.9 121.7h.7M168.6 124.2h.7M174.3 118.8h.7M161.9 116.4h.7M161.7 115.9h.7M167.1 122.1h.7M168.4 120.8h.7M166.0 122.5h.7M171.9 124.2h.7M174.8 118.9h.7M168.7 122.5h.7M166.1 125.3h.7M165.8 115.3h.7M167.4 118.2h.7M171.6 118.5h.7M168.3 119.3h.7M169.3 117.2h.7M172.9 113.2h.7M165.9 116.8h.7M170.8 120.6h.7M170.0 118.7h.7M164.3 114.8h.7M166.1 117.7h.7M169.0 122.2h.7M172.3 119.9h.7M164.2 115.1h.7M168.0 122.2h.7M176.9 121.3h.7M162.7 126.5h.7M167.7 125.2h.7M165.4 120.0h.7M166.7 125.2h.7M168.0 116.8h.7M168.8 123.7h.7M164.3 123.6h.7M164.3 116.0h.7M168.7 119.2h.7M163.0 112.2h.7M167.8 121.6h.7M165.5 121.3h.7M169.7 121.8h.7M164.8 120.8h.7M168.3 125.8h.7M169.0 121.7h.7M164.3 124.7h.7M173.3 117.9h.7M170.7 122.0h.7M167.5 113.9h.7M176.0 111.0h.7M169.1 118.5h.7M173.1 118.3h.7M167.9 123.5h.7M169.9 117.8h.7M170.9 122.4h.7M172.4 117.8h.7M167.5 118.4h.7M163.7 121.7h.7M166.2 122.3h.7M173.1 119.8h.7M168.0 121.1h.7M164.4 115.4h.7M173.0 121.3h.7M167.3 114.2h.7M166.2 104.8h.7M171.1 106.4h.7M165.1 108.1h.7M175.5 107.4h.7M174.3 103.4h.7M174.9 101.4h.7M179.3 106.1h.7M184.0 102.0h.7M182.6 116.4h.7M181.2 117.4h.7M185.1 116.8h.7M176.3 118.8h.7M180.2 119.6h.7M188.0 111.7h.7M183.6 117.3h.7M176.5 120.7h.7M175.2 122.4h.7M180.6 116.6h.7M182.4 114.9h.7M184.7 114.1h.7M185.5 118.4h.7M182.1 118.1h.7M181.5 119.2h.7M184.5 114.5h.7M186.0 116.1h.7M185.3 113.6h.7M183.1 117.6h.7M178.3 118.3h.7M183.8 115.9h.7M188.1 114.6h.7M183.4 116.1h.7M179.0 118.5h.7M182.6 115.4h.7M182.9 116.8h.7M179.5 117.4h.7M179.3 120.9h.7M178.2 116.3h.7M183.7 114.5h.7M184.0 113.9h.7M187.7 112.9h.7M182.7 116.0h.7M182.5 117.5h.7M186.3 111.9h.7M180.3 119.0h.7M183.2 112.5h.7M179.7 116.4h.7M184.0 115.7h.7M179.5 116.3h.7M181.8 112.6h.7M183.5 114.8h.7M187.5 113.7h.7M180.6 117.0h.7M180.9 115.9h.7M183.3 117.1h.7M178.6 118.8h.7M186.3 114.2h.7M179.6 116.8h.7M178.7 116.0h.7M184.9 114.1h.7M179.3 115.9h.7M180.8 116.4h.7M185.7 112.4h.7M183.5 117.2h.7M183.5 114.7h.7M178.6 121.9h.7M183.1 114.6h.7M181.1 115.3h.7M178.8 116.2h.7M183.8 115.8h.7M183.3 116.7h.7M183.5 115.3h.7M180.8 118.5h.7M185.5 114.7h.7M184.6 113.3h.7M181.2 119.5h.7M181.1 117.6h.7M181.8 116.6h.7M181.1 116.1h.7M180.0 121.7h.7M180.8 113.6h.7M179.1 116.7h.7M178.1 114.7h.7M185.0 117.0h.7M182.4 117.5h.7M182.4 113.7h.7M183.3 112.0h.7M180.6 116.9h.7M185.1 114.0h.7M181.2 115.5h.7M182.4 116.1h.7M185.2 116.4h.7M183.9 114.8h.7M183.4 118.3h.7M182.6 115.8h.7M187.7 114.6h.7M183.4 115.0h.7M181.8 118.6h.7M182.1 118.1h.7M180.5 117.8h.7M183.2 115.6h.7M183.1 116.2h.7M178.6 117.1h.7M183.6 118.5h.7M181.0 115.4h.7M180.8 117.5h.7M184.3 113.3h.7M183.6 115.3h.7M180.5 115.8h.7M181.2 115.7h.7M181.7 113.2h.7M185.4 114.9h.7M184.9 116.8h.7M181.9 113.1h.7M182.7 116.6h.7M179.6 116.2h.7M183.7 116.0h.7M181.0 116.7h.7M180.5 116.5h.7M183.1 117.5h.7M178.3 118.9h.7M186.1 113.5h.7M183.3 116.8h.7M178.8 116.7h.7M177.1 117.7h.7M183.6 116.7h.7M180.6 116.2h.7M183.7 116.1h.7M181.0 113.6h.7M179.9 115.8h.7M181.8 119.4h.7M179.7 124.4h.7M184.3 122.2h.7M181.8 121.6h.7M179.8 121.1h.7M185.7 119.3h.7M179.7 121.5h.7M183.3 123.0h.7M178.9 120.9h.7M180.6 118.6h.7M181.4 120.2h.7M183.3 122.1h.7M179.4 121.4h.7M180.4 119.8h.7M180.1 123.5h.7M180.2 117.5h.7M179.4 122.9h.7M186.2 118.9h.7M180.4 120.5h.7M177.9 122.1h.7M181.1 121.8h.7M186.4 120.6h.7M183.1 123.0h.7M179.7 119.9h.7M184.8 122.7h.7M181.5 118.9h.7M183.3 122.3h.7M186.3 124.4h.7M183.1 121.8h.7M181.3 120.0h.7M181.9 121.7h.7M182.7 123.5h.7M181.9 120.0h.7M183.1 124.5h.7M179.3 122.1h.7M182.5 122.3h.7M182.4 121.0h.7M181.0 124.8h.7M185.2 118.2h.7M175.6 124.5h.7M176.2 115.9h.7M175.5 121.4h.7M176.9 113.9h.7M174.2 124.6h.7M173.7 122.7h.7M174.9 115.4h.7M174.5 118.3h.7M178.2 114.1h.7M177.5 116.3h.7M174.1 121.8h.7M174.9 114.6h.7M175.3 122.8h.7M177.5 119.6h.7M224.3 120.9h.7M220.3 118.9h.7M221.4 112.6h.7M215.8 125.2h.7M213.2 123.7h.7M214.6 122.0h.7M210.6 124.2h.7M222.3 114.7h.7M221.1 105.6h.7M215.2 111.8h.7M217.7 116.7h.7M213.7 116.1h.7M217.7 118.0h.7M212.1 119.2h.7M218.2 116.1h.7M221.4 112.1h.7M218.2 118.4h.7M223.5 117.1h.7M213.2 113.6h.7M225.4 123.4h.7M211.3 118.6h.7M218.2 110.2h.7M217.3 124.8h.7M216.3 122.7h.7M215.8 121.3h.7M217.3 116.8h.7M217.9 121.1h.7M216.1 116.9h.7M211.6 121.5h.7M220.1 108.3h.7M220.5 116.8h.7M222.5 115.4h.7M214.3 119.2h.7M210.9 119.6h.7M214.7 117.3h.7M213.4 124.0h.7M223.4 118.3h.7M222.5 121.8h.7M209.4 123.7h.7M214.4 121.3h.7M217.4 115.6h.7M217.4 116.9h.7M227.3 109.6h.7M212.1 122.3h.7M213.6 108.9h.7M217.5 124.4h.7M218.6 126.2h.7M222.4 120.3h.7M217.1 117.2h.7M221.4 116.8h.7M216.9 110.0h.7M216.6 121.4h.7M225.9 112.8h.7M213.8 119.3h.7M210.5 113.5h.7M210.6 123.5h.7M216.1 124.4h.7M211.3 123.2h.7M214.3 120.7h.7M220.6 120.5h.7M214.7 112.0h.7M216.6 124.2h.7M213.4 120.0h.7M214.9 111.9h.7M214.5 112.5h.7M217.7 119.5h.7M221.1 118.4h.7M217.8 121.3h.7M218.4 112.9h.7M219.6 124.7h.7M216.4 123.7h.7M218.9 124.8h.7M213.3 117.4h.7M218.0 123.4h.7M219.0 122.0h.7M214.0 125.8h.7M218.5 125.6h.7M213.2 120.9h.7M214.1 118.7h.7M217.2 122.0h.7M212.6 107.6h.7M212.7 123.0h.7M212.4 122.5h.7M214.6 115.6h.7M215.8 120.0h.7M220.8 113.6h.7M212.2 126.0h.7M220.5 117.8h.7M212.7 122.1h.7M209.7 117.8h.7M215.2 107.9h.7M219.1 124.2h.7M221.3 113.0h.7M210.3 116.2h.7M211.7 118.7h.7M217.3 122.6h.7M223.1 114.8h.7M220.4 121.1h.7M210.8 121.1h.7M212.9 125.4h.7M222.4 117.2h.7M212.1 121.0h.7M211.4 124.9h.7M217.1 116.4h.7M213.1 124.0h.7M212.6 119.3h.7M219.4 120.8h.7M224.3 123.7h.7M218.4 123.2h.7M219.8 121.7h.7M215.5 112.2h.7M226.0 113.7h.7M225.4 126.5h.7M213.5 121.6h.7M216.2 110.2h.7M214.7 121.8h.7M221.8 114.2h.7M217.9 120.7h.7M217.0 121.1h.7M214.6 113.3h.7M218.4 122.3h.7M210.4 108.4h.7M212.0 122.3h.7M216.2 124.0h.7M231.5 117.7h.7M215.5 117.2h.7M217.5 123.0h.7M221.7 122.6h.7M215.8 119.1h.7M211.7 117.7h.7M221.0 115.6h.7M213.8 124.7h.7M225.1 116.8h.7M221.5 117.0h.7M218.1 122.8h.7M210.9 125.5h.7M224.8 120.6h.7M217.6 114.3h.7M224.8 120.6h.7M210.3 124.2h.7M209.4 116.8h.7M226.8 117.1h.7M213.2 117.3h.7M213.6 123.1h.7M223.2 115.1h.7M218.4 111.1h.7M223.5 119.8h.7M212.5 120.6h.7M218.0 119.3h.7M223.5 116.6h.7M212.0 117.5h.7M218.1 119.4h.7M216.7 118.0h.7M215.9 122.8h.7M219.8 116.3h.7M215.8 116.4h.7M215.5 113.0h.7M220.8 123.7h.7M215.7 116.8h.7M214.1 116.9h.7M231.9 114.0h.7M210.8 123.3h.7M219.2 112.3h.7M214.0 120.7h.7M216.3 117.4h.7M215.6 118.8h.7M222.2 119.8h.7M216.1 117.6h.7M213.3 116.5h.7M221.6 121.5h.7M224.2 125.5h.7M217.3 119.5h.7M211.1 121.6h.7M214.8 112.2h.7M217.3 122.8h.7M217.2 117.9h.7M218.5 125.8h.7M214.8 122.9h.7M221.2 117.8h.7M217.1 116.5h.7M219.2 118.4h.7M221.7 116.4h.7M224.3 118.7h.7M212.3 115.7h.7M219.4 115.9h.7M218.8 113.0h.7M216.2 116.6h.7M226.7 117.6h.7M211.7 118.6h.7M217.6 122.7h.7M210.9 121.4h.7M215.8 125.2h.7M213.9 118.7h.7M219.7 117.1h.7M229.3 116.7h.7M220.3 125.5h.7M220.9 119.3h.7M212.4 119.0h.7M219.5 120.9h.7M219.1 123.2h.7M212.1 115.5h.7M223.1 117.8h.7M212.4 115.5h.7M220.9 114.5h.7M212.2 125.7h.7M216.9 120.6h.7M213.3 119.2h.7M213.9 120.2h.7M220.0 113.8h.7M212.0 109.6h.7M223.4 119.9h.7M216.2 120.0h.7M221.1 121.9h.7M220.3 119.4h.7M215.7 120.0h.7M219.5 120.6h.7M212.1 119.9h.7M221.0 119.2h.7M215.7 118.5h.7M222.8 107.7h.7M222.3 125.7h.7M216.0 123.2h.7M211.7 126.0h.7M230.8 115.6h.7M222.9 120.0h.7M214.7 117.8h.7M215.4 113.9h.7M216.2 123.1h.7M217.8 122.7h.7M219.3 125.4h.7M210.9 117.3h.7M211.2 123.6h.7M217.9 120.5h.7M213.2 122.1h.7M216.5 116.5h.7M217.9 116.9h.7M220.8 123.5h.7M213.0 123.3h.7M216.6 116.7h.7M220.5 107.9h.7M217.7 103.7h.7M223.8 105.0h.7M214.2 98.3h.7M212.9 101.6h.7M213.0 105.6h.7M217.3 101.3h.7M218.5 109.2h.7M215.0 99.3h.7M215.8 101.5h.7M235.6 108.2h.7M231.4 105.0h.7M228.1 104.7h.7M235.1 107.9h.7M229.1 107.8h.7M228.2 107.0h.7M230.6 104.6h.7M234.2 108.3h.7M232.1 105.0h.7M230.2 113.4h.7M230.8 115.8h.7M231.5 117.2h.7M231.4 121.6h.7M231.5 119.1h.7M229.0 104.7h.7M229.9 120.1h.7M230.6 114.7h.7M227.3 120.8h.7M229.7 118.3h.7M234.3 120.0h.7M237.8 117.5h.7M233.8 120.6h.7M229.4 117.4h.7M230.1 113.0h.7M232.5 114.2h.7M236.5 114.8h.7M229.7 117.6h.7M229.8 117.5h.7M230.1 111.3h.7M224.9 111.3h.7M235.5 119.7h.7M231.9 115.5h.7M230.8 118.6h.7M227.6 113.7h.7M228.2 122.4h.7M227.8 122.0h.7M231.1 117.5h.7M234.8 121.4h.7M234.5 113.2h.7M233.9 124.7h.7M231.2 115.3h.7M227.7 121.3h.7M232.1 117.5h.7M227.1 123.8h.7M233.8 117.6h.7M236.0 113.9h.7M234.3 113.5h.7M235.5 116.7h.7M235.0 116.0h.7M232.0 122.3h.7M228.7 117.5h.7M228.5 120.7h.7M229.7 115.7h.7M230.2 122.2h.7M228.3 117.0h.7M230.6 115.0h.7M229.1 116.5h.7M232.5 111.0h.7M232.5 112.5h.7M228.5 116.8h.7M230.2 121.4h.7M230.7 109.8h.7M226.6 117.7h.7M231.6 121.9h.7M229.5 120.0h.7M227.7 122.5h.7M231.4 114.5h.7M231.1 124.7h.7M229.4 112.0h.7M228.9 112.3h.7M231.0 118.9h.7M230.7 118.2h.7M234.8 116.5h.7M228.6 107.5h.7M232.3 114.6h.7M230.4 119.0h.7M233.3 111.0h.7M228.5 117.4h.7M230.4 122.2h.7M230.7 108.6h.7M235.4 110.9h.7M228.3 118.7h.7M231.8 119.7h.7M229.1 126.5h.7M233.2 114.6h.7M235.6 110.7h.7M229.5 118.4h.7M232.1 113.4h.7M235.2 124.0h.7M228.4 118.7h.7M229.7 115.4h.7M234.1 118.2h.7M230.9 117.8h.7M227.4 122.2h.7M228.6 122.7h.7M230.2 115.4h.7M235.5 118.6h.7M229.7 115.0h.7M232.3 125.4h.7M233.2 115.9h.7M228.3 114.3h.7M230.9 118.4h.7M228.9 122.6h.7M228.8 114.1h.7M232.5 119.6h.7M229.8 121.3h.7M226.6 123.8h.7M236.8 126.2h.7M230.8 125.7h.7M230.9 123.0h.7M230.6 118.2h.7M233.5 110.3h.7M230.0 124.5h.7M222.7 118.2h.7M233.8 119.0h.7M231.3 123.3h.7M233.1 109.6h.7M228.7 115.9h.7M231.9 115.6h.7M230.3 124.3h.7M222.4 121.4h.7M233.7 120.2h.7M231.3 117.7h.7M232.2 118.5h.7M228.9 120.5h.7M228.9 117.0h.7M230.7 112.5h.7M233.1 117.3h.7M228.0 116.7h.7M226.7 123.0h.7M232.0 125.8h.7M229.4 120.2h.7M228.9 113.6h.7M230.9 119.1h.7M234.1 116.6h.7M234.1 121.7h.7M228.9 116.4h.7M228.0 124.2h.7M229.3 120.9h.7M234.0 116.6h.7M229.8 118.7h.7M229.6 111.9h.7M228.4 118.5h.7M231.1 124.8h.7M225.8 119.0h.7M227.5 121.9h.7M233.2 118.1h.7M235.7 116.3h.7M230.2 112.9h.7M229.4 117.7h.7M232.7 122.9h.7M230.8 114.3h.7M230.5 115.5h.7M230.1 115.6h.7M228.8 116.9h.7M229.9 116.6h.7M227.3 117.6h.7M232.7 120.3h.7M230.2 112.5h.7M228.1 112.2h.7M229.6 115.9h.7M225.9 119.7h.7M227.2 114.1h.7M228.9 120.6h.7M236.7 116.5h.7M230.7 115.7h.7M230.8 116.6h.7M238.8 113.6h.7M231.3 114.1h.7M232.5 115.4h.7M233.4 113.1h.7M237.2 118.9h.7M226.0 119.8h.7M230.4 112.5h.7M232.8 115.4h.7M233.6 115.3h.7M233.8 118.3h.7M232.3 118.2h.7M230.4 115.8h.7M232.3 120.5h.7M229.2 126.5h.7M236.6 113.2h.7M234.4 117.4h.7M232.3 114.2h.7M236.4 114.5h.7M231.4 114.4h.7M236.3 123.1h.7M227.7 115.2h.7M232.5 115.7h.7M230.7 112.9h.7M232.5 113.0h.7M229.7 124.1h.7M232.6 114.8h.7M230.7 113.4h.7M231.3 120.3h.7M234.1 116.5h.7M227.9 116.8h.7M235.9 119.0h.7M232.0 108.8h.7M229.8 119.5h.7M228.1 122.7h.7M230.0 113.7h.7M229.7 116.9h.7M234.4 115.4h.7M226.3 116.6h.7M232.2 123.9h.7M227.5 123.2h.7M233.0 119.5h.7M229.5 113.6h.7M228.2 121.0h.7M231.5 121.9h.7M236.5 118.0h.7M230.4 125.3h.7M227.8 115.2h.7M230.4 115.8h.7M232.1 114.0h.7M235.2 112.2h.7M229.7 110.3h.7M227.1 119.4h.7M233.2 116.8h.7M233.4 120.2h.7M229.7 117.1h.7M231.5 125.8h.7M229.9 118.8h.7M232.3 122.6h.7M232.1 121.9h.7M228.4 116.0h.7M225.8 116.7h.7M237.8 119.1h.7M231.4 118.5h.7M232.3 112.0h.7M229.4 116.5h.7M232.1 113.9h.7M231.3 114.4h.7M227.8 114.4h.7M228.7 120.6h.7M234.9 120.2h.7M230.9 115.1h.7M227.1 114.8h.7M235.3 122.6h.7M232.0 116.5h.7M231.1 119.2h.7M231.1 119.2h.7M229.1 117.4h.7M229.9 121.7h.7M227.2 122.4h.7M231.3 115.3h.7M231.3 117.9h.7M230.5 119.1h.7M230.4 110.4h.7M233.3 117.5h.7M235.9 119.5h.7M225.1 121.9h.7M229.1 119.5h.7M237.1 122.5h.7M228.2 116.7h.7M226.5 119.7h.7M233.3 113.4h.7M232.2 121.4h.7M233.9 114.9h.7M229.8 112.7h.7M227.5 118.3h.7M230.9 122.7h.7M232.2 116.2h.7M226.6 123.3h.7M231.8 117.4h.7M228.9 112.9h.7M233.5 113.7h.7M232.7 120.2h.7M230.9 110.7h.7M231.9 123.3h.7M229.5 112.1h.7M234.3 118.3h.7M229.0 122.2h.7M230.3 119.2h.7M230.5 114.3h.7M232.3 114.0h.7M226.5 114.7h.7M234.3 122.2h.7M237.1 122.1h.7M235.8 118.9h.7M229.9 119.2h.7M228.3 120.2h.7M229.9 118.4h.7M228.9 116.7h.7M234.2 116.8h.7M229.3 118.4h.7M233.9 116.9h.7M228.6 110.8h.7M227.1 121.4h.7M230.9 119.4h.7M234.2 118.9h.7M232.9 115.5h.7M226.5 119.5h.7M230.8 119.7h.7M228.3 116.6h.7M237.3 114.6h.7M231.0 122.8h.7M230.6 117.9h.7M225.0 120.0h.7M229.5 122.5h.7M231.2 115.9h.7M232.6 116.6h.7M229.2 123.5h.7M234.0 118.2h.7M233.2 121.0h.7M232.9 117.8h.7M231.3 119.1h.7M232.8 119.0h.7M229.8 117.0h.7M233.0 113.6h.7M231.0 120.5h.7M231.9 116.4h.7M231.4 115.5h.7M234.2 116.2h.7M227.1 112.1h.7M232.1 118.4h.7M230.5 112.1h.7M231.2 114.0h.7M229.4 117.3h.7M229.0 118.5h.7M229.4 115.4h.7M230.1 123.3h.7M235.4 121.7h.7M229.2 117.3h.7M222.4 118.7h.7M224.6 121.6h.7M223.9 117.3h.7M226.7 115.4h.7M227.2 124.1h.7M227.2 124.8h.7M223.2 123.0h.7M225.2 114.4h.7M227.3 120.6h.7M226.3 119.4h.7M222.2 123.7h.7M222.8 115.2h.7M225.2 114.2h.7M224.3 121.6h.7M222.3 120.8h.7M222.4 118.2h.7M225.4 121.2h.7M222.0 114.2h.7M227.1 117.0h.7M224.1 116.8h.7M225.6 121.9h.7M225.4 117.2h.7M224.9 118.8h.7M222.8 124.9h.7M227.1 122.5h.7M227.3 118.1h.7M226.4 114.9h.7M225.9 121.6h.7M227.0 123.3h.7M226.6 115.3h.7M226.1 118.2h.7M223.5 116.7h.7M226.2 123.4h.7M226.4 120.9h.7M222.7 113.7h.7M224.9 114.5h.7M223.7 112.9h.7M222.7 121.6h.7M223.0 123.5h.7M223.6 123.5h.7M226.4 124.3h.7M227.5 123.6h.7M228.0 124.6h.7M223.0 125.9h.7M227.3 123.6h.7M234.3 124.2h.7M225.8 123.7h.7M224.0 125.5h.7M229.8 125.0h.7M225.8 124.4h.7M234.4 124.6h.7M234.7 126.0h.7M224.3 125.9h.7M223.1 125.5h.7M232.5 125.5h.7M229.4 125.8h.7M224.7 125.1h.7M226.0 124.7h.7M225.1 125.5h.7M229.7 125.7h.7M230.3 125.2h.7M233.9 125.8h.7M229.6 124.5h.7M233.9 124.6h.7M224.0 124.5h.7M231.3 126.1h.7M230.5 125.4h.7M234.0 125.7h.7M228.1 124.8h.7M231.9 124.5h.7M61.5 169.6h.7M58.5 162.5h.7M54.3 157.1h.7M58.9 167.4h.7M54.1 165.8h.7M69.6 161.0h.7M55.9 163.6h.7M59.8 165.2h.7M61.2 167.9h.7M61.8 166.2h.7M58.4 159.9h.7M57.7 169.4h.7M53.7 165.9h.7M54.8 161.5h.7M60.0 165.6h.7M57.2 166.2h.7M58.6 166.5h.7M54.3 154.7h.7M60.1 160.6h.7M57.0 165.3h.7M55.3 168.0h.7M56.5 164.5h.7M54.0 164.5h.7M53.7 165.9h.7M62.4 169.9h.7M59.1 160.0h.7M61.3 169.6h.7M65.1 156.2h.7M57.6 164.3h.7M61.5 161.1h.7M61.2 157.3h.7M55.2 168.2h.7M57.9 159.5h.7M55.2 170.5h.7M61.9 163.2h.7M61.7 162.7h.7M58.4 165.6h.7M52.9 167.0h.7M56.1 154.1h.7M54.4 162.1h.7M54.4 161.6h.7M54.9 155.3h.7M60.8 166.0h.7M58.4 164.6h.7M57.7 164.6h.7M53.5 159.3h.7M57.8 170.0h.7M52.4 164.6h.7M55.2 170.9h.7M63.8 163.5h.7M60.2 164.7h.7M53.8 165.2h.7M59.7 170.7h.7M58.8 155.4h.7M60.5 166.1h.7M53.7 169.0h.7M58.7 164.9h.7M56.4 167.9h.7M59.6 168.5h.7M56.0 160.1h.7M55.4 165.5h.7M60.5 158.2h.7M58.5 162.7h.7M65.1 165.7h.7M58.3 163.9h.7M58.2 158.1h.7M52.7 159.4h.7M60.8 165.3h.7M61.8 157.0h.7M54.6 157.8h.7M54.7 164.2h.7M59.7 163.5h.7M55.7 159.4h.7M62.2 171.0h.7M57.8 161.9h.7M60.0 167.7h.7M58.1 160.7h.7M58.4 163.3h.7M60.2 168.2h.7M59.1 163.8h.7M63.2 168.9h.7M62.2 169.2h.7M60.0 167.3h.7M53.5 157.9h.7M54.0 168.3h.7M60.9 166.4h.7M56.0 158.1h.7M60.1 168.8h.7M56.7 169.1h.7M57.3 162.6h.7M56.1 168.9h.7M61.0 160.9h.7M53.8 166.2h.7M65.4 160.7h.7M52.9 167.4h.7M59.4 163.1h.7M57.4 167.7h.7M59.7 169.6h.7M61.8 165.4h.7M60.4 163.0h.7M61.3 170.1h.7M57.0 155.6h.7M55.8 162.4h.7M54.4 165.3h.7M53.5 167.3h.7M64.5 160.6h.7M61.4 163.4h.7M59.5 165.1h.7M62.2 162.6h.7M60.2 162.4h.7M58.3 165.6h.7M61.5 159.0h.7M53.7 166.5h.7M57.3 163.8h.7M60.1 165.2h.7M54.7 168.9h.7M62.5 163.5h.7M56.3 167.2h.7M61.6 167.9h.7M53.9 163.2h.7M61.4 165.1h.7M55.2 169.4h.7M53.5 162.7h.7M54.9 167.2h.7M55.7 170.4h.7M55.1 164.5h.7M59.6 166.5h.7M59.6 163.6h.7M58.3 161.0h.7M53.0 164.4h.7M58.8 166.1h.7M54.6 159.8h.7M58.9 162.3h.7M61.9 167.9h.7M56.0 163.0h.7M61.7 167.0h.7M63.5 167.2h.7M55.3 163.1h.7M54.9 166.7h.7M58.4 168.2h.7M59.2 161.2h.7M56.7 161.7h.7M59.3 160.1h.7M55.4 162.0h.7M55.2 164.6h.7M63.1 164.6h.7M52.2 164.4h.7M60.3 168.0h.7M61.6 166.0h.7M62.0 160.0h.7M56.9 162.0h.7M61.2 165.3h.7M58.0 165.6h.7M58.2 164.9h.7M53.9 164.4h.7M57.9 161.8h.7M56.5 165.7h.7M57.9 162.6h.7M57.4 165.7h.7M58.0 159.4h.7M56.2 163.0h.7M52.5 164.3h.7M57.2 162.7h.7M56.2 169.4h.7M60.4 168.0h.7M56.9 159.9h.7M62.2 170.6h.7M58.5 167.2h.7M57.5 171.0h.7M60.4 164.3h.7M57.5 158.8h.7M54.8 164.4h.7M66.5 162.2h.7M60.9 166.0h.7M56.4 168.3h.7M64.6 166.9h.7M57.3 166.3h.7M59.9 163.6h.7M57.9 167.8h.7M56.2 167.3h.7M58.7 168.7h.7M53.9 163.4h.7M55.9 170.7h.7M58.4 158.6h.7M58.7 160.2h.7M54.2 166.3h.7M56.2 164.4h.7M64.5 161.5h.7M63.2 167.1h.7M59.3 162.1h.7M51.9 165.7h.7M60.4 166.6h.7M59.1 167.3h.7M55.2 165.2h.7M58.0 163.7h.7M52.1 159.5h.7M59.4 167.9h.7M57.9 160.7h.7M60.6 164.0h.7M59.5 163.8h.7M58.5 158.4h.7M56.1 164.4h.7M59.2 165.1h.7M58.8 158.7h.7M52.2 169.6h.7M66.0 168.4h.7M52.4 171.0h.7M56.0 170.9h.7M61.8 166.5h.7M64.1 169.8h.7M55.7 161.5h.7M66.5 163.9h.7M59.0 165.2h.7M55.8 158.8h.7M57.0 165.2h.7M61.1 163.5h.7M57.4 166.7h.7M60.2 164.0h.7M59.5 166.3h.7M63.7 165.4h.7M58.0 168.1h.7M62.0 161.7h.7M55.8 164.5h.7M61.4 165.7h.7M60.8 159.6h.7M63.1 167.4h.7M53.1 165.9h.7M60.3 169.8h.7M58.1 163.4h.7M60.3 162.4h.7M57.2 168.9h.7M52.2 167.2h.7M53.0 165.3h.7M60.1 165.4h.7M60.8 166.1h.7M56.7 167.8h.7M56.6 166.2h.7M61.3 163.2h.7M61.7 160.9h.7M56.7 158.2h.7M52.1 161.3h.7M71.7 146.9h.7M70.7 144.7h.7M71.3 146.2h.7M71.3 146.8h.7M69.8 145.3h.7M55.7 151.0h.7M55.1 153.3h.7M61.5 152.3h.7M56.4 151.5h.7M54.1 153.6h.7M57.1 153.1h.7M56.0 154.3h.7M55.4 154.5h.7M56.7 154.9h.7M56.1 154.3h.7M110.4 165.2h.7M115.2 166.3h.7M105.2 168.5h.7M105.4 163.1h.7M108.7 166.3h.7M115.5 157.9h.7M107.7 170.4h.7M108.1 166.9h.7M114.7 160.1h.7M108.9 169.0h.7M106.4 157.8h.7M104.7 166.4h.7M114.0 158.7h.7M112.8 169.5h.7M115.1 164.8h.7M106.5 166.1h.7M114.8 168.2h.7M115.4 168.9h.7M106.4 161.1h.7M116.0 158.9h.7M107.3 164.1h.7M105.1 163.0h.7M108.4 163.2h.7M109.2 169.6h.7M105.5 163.7h.7M112.2 164.3h.7M107.1 164.1h.7M103.9 168.9h.7M106.3 162.3h.7M110.7 166.0h.7M106.4 164.5h.7M112.7 162.3h.7M110.5 168.4h.7M110.0 168.1h.7M110.6 167.8h.7M106.7 169.5h.7M109.0 160.9h.7M104.7 166.2h.7M110.0 155.8h.7M102.6 164.4h.7M106.3 167.9h.7M104.7 170.9h.7M103.9 166.9h.7M109.4 168.2h.7M108.4 165.4h.7M107.6 160.8h.7M111.6 167.0h.7M105.3 164.3h.7M108.7 169.3h.7M108.0 169.6h.7M110.5 157.8h.7M106.0 156.6h.7M107.6 163.7h.7M111.0 166.3h.7M111.1 160.1h.7M106.0 166.9h.7M115.5 164.6h.7M108.0 166.7h.7M111.8 165.1h.7M109.9 163.6h.7M106.5 162.0h.7M111.3 163.1h.7M110.9 167.3h.7M112.6 153.7h.7M104.9 160.1h.7M108.0 169.0h.7M114.1 167.2h.7M107.2 167.9h.7M108.7 168.2h.7M104.6 160.7h.7M106.1 165.3h.7M110.1 163.9h.7M110.1 168.5h.7M104.1 165.1h.7M112.3 162.4h.7M116.1 167.7h.7M112.2 166.0h.7M112.1 170.3h.7M109.1 163.2h.7M108.0 163.5h.7M105.9 158.1h.7M106.7 166.9h.7M106.8 162.2h.7M110.3 167.5h.7M107.0 166.9h.7M104.8 169.3h.7M104.8 164.0h.7M109.2 163.7h.7M114.7 157.8h.7M109.2 159.9h.7M109.9 159.8h.7M111.0 167.8h.7M115.5 170.8h.7M106.9 169.7h.7M106.9 165.0h.7M106.7 157.7h.7M111.1 156.5h.7M107.8 167.8h.7M109.2 158.5h.7M106.1 168.5h.7M106.8 168.9h.7M111.5 162.7h.7M107.3 161.2h.7M113.1 159.6h.7M105.1 164.0h.7M109.8 161.8h.7M111.0 167.0h.7M109.8 165.2h.7M110.5 160.3h.7M103.9 163.6h.7M104.3 168.6h.7M116.4 171.0h.7M110.5 167.0h.7M106.0 159.8h.7M110.9 159.0h.7M109.9 164.9h.7M111.7 165.7h.7M109.1 162.9h.7M111.5 170.1h.7M114.2 161.1h.7M105.0 168.6h.7M110.0 158.8h.7M106.9 160.9h.7M117.4 165.9h.7M107.6 160.4h.7M110.1 163.4h.7M110.4 161.6h.7M114.6 165.3h.7M110.7 166.2h.7M113.4 168.2h.7M107.3 168.7h.7M107.1 166.1h.7M115.2 160.8h.7M104.6 163.7h.7M115.0 163.5h.7M109.4 163.9h.7M111.4 168.4h.7M111.7 168.9h.7M116.4 164.7h.7M111.5 164.7h.7M108.9 166.5h.7M108.5 167.0h.7M105.3 164.8h.7M106.3 160.3h.7M105.9 163.3h.7M108.1 158.6h.7M107.7 160.5h.7M105.4 166.3h.7M113.1 166.8h.7M106.8 163.6h.7M114.0 158.3h.7M113.2 158.9h.7M106.2 165.7h.7M110.7 165.3h.7M112.5 165.7h.7M105.5 170.5h.7M107.0 168.9h.7M113.4 167.7h.7M107.5 152.5h.7M110.5 164.7h.7M108.7 166.5h.7M111.7 164.3h.7M105.1 163.9h.7M116.6 162.5h.7M112.9 166.0h.7M111.6 164.3h.7M105.1 169.9h.7M107.7 163.8h.7M110.1 164.7h.7M107.5 161.5h.7M109.7 166.9h.7M116.0 165.4h.7M117.8 163.5h.7M105.5 164.8h.7M107.9 158.8h.7M111.0 161.6h.7M113.7 166.4h.7M106.7 164.3h.7M112.6 163.2h.7M110.4 169.8h.7M105.1 162.9h.7M110.5 165.5h.7M108.2 163.2h.7M114.1 158.3h.7M108.9 165.9h.7M108.8 159.4h.7M108.2 166.2h.7M106.0 166.9h.7M109.1 167.2h.7M108.0 163.5h.7M109.4 170.3h.7M112.3 165.1h.7M106.8 170.2h.7M110.9 169.4h.7M107.6 161.7h.7M109.4 162.7h.7M113.3 169.3h.7M114.0 170.1h.7M106.8 161.7h.7M112.6 170.0h.7M108.9 160.4h.7M105.4 162.5h.7M110.5 170.2h.7M113.9 165.3h.7M107.3 168.3h.7M104.2 160.1h.7M112.8 165.5h.7M112.7 163.7h.7M104.0 158.1h.7M109.8 169.5h.7M110.2 165.3h.7M107.1 170.3h.7M108.5 159.1h.7M114.2 162.6h.7M110.3 165.5h.7M112.9 166.6h.7M113.6 166.4h.7M106.9 163.2h.7M111.3 161.8h.7M112.4 164.4h.7M105.0 161.6h.7M111.8 165.6h.7M107.6 165.5h.7M109.4 163.5h.7M109.4 161.1h.7M104.5 164.8h.7M116.6 160.6h.7M108.1 158.5h.7M109.4 166.4h.7M111.7 159.6h.7M106.3 162.6h.7M107.9 165.3h.7M106.7 169.0h.7M118.9 170.7h.7M114.8 160.7h.7M112.9 165.6h.7M113.7 170.2h.7M111.3 158.0h.7M109.2 163.3h.7M110.5 165.7h.7M112.9 158.4h.7M116.7 152.4h.7M119.9 149.0h.7M119.0 150.3h.7M122.4 147.0h.7M118.8 148.3h.7M109.7 157.1h.7M118.9 147.6h.7M120.4 148.9h.7M118.7 149.7h.7M118.2 152.0h.7M120.2 149.1h.7M117.6 151.8h.7M122.9 146.6h.7M117.2 150.5h.7M110.3 152.1h.7M106.6 155.2h.7M108.6 150.1h.7M108.3 157.0h.7M109.8 151.4h.7M107.4 155.0h.7M111.1 154.1h.7M109.6 154.6h.7M113.9 154.6h.7M109.7 151.2h.7M170.0 159.5h.7M164.5 167.6h.7M168.8 168.5h.7M165.7 165.2h.7M165.4 170.8h.7M161.7 162.2h.7M167.1 165.4h.7M174.9 164.3h.7M168.7 166.9h.7M167.8 166.0h.7M166.7 165.3h.7M167.0 169.9h.7M167.3 165.6h.7M167.0 168.8h.7M165.2 169.6h.7M164.7 168.5h.7M175.5 166.4h.7M166.8 159.9h.7M170.4 165.4h.7M171.1 162.3h.7M168.9 163.8h.7M161.6 165.3h.7M170.0 168.1h.7M162.4 160.6h.7M163.0 160.6h.7M166.0 166.5h.7M175.5 166.2h.7M173.5 157.7h.7M173.8 169.0h.7M169.1 169.1h.7M170.7 157.3h.7M165.7 162.3h.7M165.7 166.8h.7M168.0 162.4h.7M169.5 168.1h.7M163.2 160.2h.7M167.2 162.1h.7M164.6 164.7h.7M167.3 167.9h.7M170.8 167.3h.7M172.0 160.8h.7M169.8 167.0h.7M162.7 162.2h.7M169.1 165.6h.7M161.8 162.7h.7M173.8 169.2h.7M163.3 164.5h.7M171.3 163.7h.7M162.4 168.0h.7M174.1 153.6h.7M167.9 159.5h.7M165.9 158.8h.7M178.4 162.2h.7M167.4 162.0h.7M162.9 163.2h.7M162.6 165.6h.7M165.3 158.1h.7M183.3 164.2h.7M168.3 161.8h.7M164.7 160.5h.7M171.6 163.4h.7M166.6 166.1h.7M161.9 166.4h.7M166.5 167.4h.7M165.5 165.5h.7M169.4 169.8h.7M164.2 169.8h.7M162.9 164.4h.7M167.8 166.0h.7M166.4 169.6h.7M169.5 165.4h.7M168.3 169.6h.7M163.7 168.0h.7M171.8 164.2h.7M163.5 160.4h.7M169.1 161.6h.7M177.9 167.9h.7M161.6 164.0h.7M173.8 168.4h.7M162.8 170.1h.7M164.8 168.1h.7M169.6 163.2h.7M166.5 170.7h.7M169.3 165.0h.7M171.2 167.5h.7M168.6 158.1h.7M167.8 163.0h.7M170.4 162.5h.7M169.1 160.4h.7M171.1 161.9h.7M167.1 168.0h.7M165.8 165.3h.7M170.1 169.6h.7M165.2 165.7h.7M166.3 159.8h.7M172.8 163.5h.7M175.6 168.3h.7M168.9 168.3h.7M170.6 169.6h.7M163.0 162.7h.7M164.8 165.8h.7M166.1 159.6h.7M176.4 161.3h.7M168.8 165.1h.7M163.5 168.6h.7M169.2 163.9h.7M170.9 162.0h.7M171.0 168.5h.7M168.6 168.8h.7M167.9 165.2h.7M165.7 164.0h.7M167.2 160.4h.7M170.0 163.8h.7M169.5 163.0h.7M169.0 165.9h.7M171.0 167.4h.7M171.2 164.5h.7M167.0 164.1h.7M161.8 164.7h.7M171.9 168.9h.7M163.5 166.7h.7M170.4 159.0h.7M168.7 166.8h.7M170.4 166.5h.7M175.8 163.5h.7M167.6 160.0h.7M173.1 165.1h.7M169.4 167.5h.7M171.3 170.0h.7M161.1 158.8h.7M167.8 165.3h.7M170.6 164.7h.7M173.1 170.6h.7M171.7 161.7h.7M166.8 165.0h.7M162.5 161.3h.7M167.9 159.7h.7M169.5 167.5h.7M166.2 163.7h.7M169.8 167.5h.7M168.8 159.7h.7M164.4 163.6h.7M164.0 169.0h.7M165.4 163.0h.7M163.9 163.3h.7M172.4 166.0h.7M169.3 160.6h.7M164.7 162.5h.7M167.0 170.9h.7M164.2 164.6h.7M167.7 159.8h.7M165.1 168.1h.7M172.1 156.7h.7M170.3 164.0h.7M172.8 168.2h.7M175.7 166.7h.7M165.5 161.5h.7M161.0 167.9h.7M169.4 169.1h.7M168.7 158.4h.7M165.4 164.2h.7M167.9 168.8h.7M173.3 166.6h.7M162.0 166.4h.7M166.2 170.4h.7M171.9 163.2h.7M171.3 165.4h.7M162.2 165.0h.7M173.8 161.8h.7M168.1 165.9h.7M165.4 159.3h.7M164.2 160.8h.7M171.9 166.4h.7M170.2 159.8h.7M169.4 166.0h.7M171.7 162.0h.7M175.0 161.0h.7M162.4 158.6h.7M171.4 168.0h.7M168.7 161.3h.7M167.0 164.8h.7M172.3 167.6h.7M173.0 163.4h.7M168.7 163.8h.7M164.7 163.9h.7M166.0 167.6h.7M165.9 165.6h.7M163.7 159.7h.7M173.4 160.8h.7M175.0 169.6h.7M165.4 165.4h.7M166.4 162.5h.7M172.6 164.7h.7M171.4 162.2h.7M166.0 160.3h.7M166.5 170.1h.7M166.5 162.0h.7M169.9 169.8h.7M166.3 163.8h.7M166.6 167.2h.7M167.4 163.9h.7M165.4 159.1h.7M160.8 166.1h.7M164.5 164.9h.7M166.4 163.0h.7M162.4 163.0h.7M165.9 160.0h.7M163.1 169.3h.7M171.2 165.9h.7M181.2 169.1h.7M172.5 161.6h.7M163.7 160.1h.7M167.0 161.6h.7M170.0 160.2h.7M167.6 156.4h.7M167.1 170.1h.7M166.1 166.7h.7M171.9 160.3h.7M161.7 165.7h.7M168.4 164.1h.7M163.0 170.9h.7M162.2 164.1h.7M167.0 168.6h.7M165.3 161.6h.7M175.9 161.4h.7M170.7 164.6h.7M165.2 165.1h.7M166.1 166.7h.7M167.5 160.9h.7M175.2 168.2h.7M168.2 163.9h.7M173.2 163.3h.7M163.7 168.5h.7M163.1 161.7h.7M173.5 158.0h.7M166.9 165.8h.7M168.3 158.6h.7M166.2 163.8h.7M175.5 169.9h.7M164.0 169.3h.7M170.0 164.8h.7M166.2 164.0h.7M175.2 163.6h.7M169.9 154.3h.7M166.1 159.5h.7M170.8 157.7h.7M176.8 151.7h.7M183.4 152.1h.7M180.8 156.5h.7M180.6 149.7h.7M182.2 150.7h.7M184.0 150.4h.7M189.0 149.0h.7M180.4 154.2h.7M182.2 148.2h.7M178.0 151.6h.7M174.9 157.7h.7M182.1 154.1h.7M179.7 152.8h.7M184.5 151.7h.7M180.8 149.0h.7M188.7 148.5h.7M187.2 151.5h.7M185.8 149.3h.7M183.4 151.6h.7M177.9 156.0h.7M178.9 154.2h.7M179.2 154.8h.7M182.9 156.8h.7M182.4 152.0h.7M178.2 152.9h.7M180.7 151.1h.7M178.9 150.9h.7M182.9 149.2h.7M179.3 153.8h.7M178.7 152.9h.7M178.6 150.9h.7M179.5 150.5h.7M178.0 154.7h.7M178.5 149.5h.7M180.3 152.6h.7M182.9 151.3h.7M182.7 152.0h.7M178.8 151.1h.7M182.5 149.5h.7M182.1 152.6h.7M185.5 151.7h.7M178.8 152.3h.7M181.0 147.8h.7M178.3 155.1h.7M178.3 151.1h.7M184.2 150.8h.7M183.5 149.0h.7M180.0 151.5h.7M179.6 147.3h.7M180.1 154.1h.7M178.9 153.0h.7M182.2 152.1h.7M178.4 150.5h.7M187.5 145.1h.7M184.0 144.9h.7M181.3 150.9h.7M189.2 151.1h.7M182.8 147.7h.7M178.0 151.8h.7M180.1 153.0h.7M178.7 152.7h.7M187.3 151.0h.7M174.7 153.7h.7M181.8 154.5h.7M182.6 155.5h.7M184.1 153.2h.7M178.4 152.7h.7M184.9 150.4h.7M175.5 154.8h.7M182.5 152.2h.7M181.6 155.8h.7M183.5 153.7h.7M182.5 150.8h.7M178.9 150.1h.7M184.7 151.0h.7M183.5 148.9h.7M177.9 152.9h.7M180.3 152.1h.7M182.9 147.9h.7M180.7 153.7h.7M186.6 153.5h.7M181.7 148.9h.7M177.3 152.2h.7M181.8 151.8h.7M180.3 150.6h.7M180.6 151.7h.7M183.0 150.4h.7M177.5 151.1h.7M185.4 148.3h.7M180.7 151.8h.7M184.1 148.6h.7M181.4 150.7h.7M181.6 148.5h.7M183.1 152.8h.7M185.4 150.1h.7M184.0 153.6h.7M185.0 152.5h.7M176.4 152.0h.7M183.2 149.4h.7M178.8 150.7h.7M184.0 146.4h.7M179.8 148.8h.7M183.5 155.7h.7M187.6 145.6h.7M180.4 156.4h.7M176.6 150.1h.7M180.9 148.9h.7M178.5 156.4h.7M177.8 151.1h.7M181.5 150.8h.7M184.6 149.3h.7M187.2 150.2h.7M187.7 149.8h.7M182.1 152.3h.7M179.4 148.7h.7M178.8 155.2h.7M173.4 154.9h.7M177.5 154.0h.7M178.6 154.0h.7M180.1 151.1h.7M176.1 149.4h.7M179.9 149.1h.7M180.9 152.7h.7M185.1 150.5h.7M183.7 146.0h.7M185.1 152.8h.7M181.0 148.7h.7M181.7 149.8h.7M180.7 154.6h.7M179.4 149.9h.7M174.0 160.6h.7M172.2 159.2h.7M174.9 158.0h.7M171.6 156.0h.7M170.7 156.5h.7M178.9 152.5h.7M174.0 159.0h.7M174.4 155.4h.7M174.8 156.0h.7M177.4 157.0h.7M172.5 157.3h.7M174.2 158.7h.7M174.9 157.1h.7M174.4 154.3h.7M175.1 158.4h.7M176.1 156.2h.7M172.2 156.8h.7M171.1 157.9h.7M171.5 155.0h.7M174.8 153.7h.7M174.4 157.1h.7M170.1 155.3h.7M175.7 155.6h.7M174.0 158.7h.7M174.0 153.9h.7M171.1 154.6h.7M174.3 159.1h.7M172.4 159.4h.7M169.8 159.0h.7M177.1 157.4h.7M175.0 157.0h.7M174.1 150.5h.7M171.8 162.3h.7M179.1 153.2h.7M173.7 157.0h.7M172.6 155.9h.7M173.1 156.6h.7M175.4 156.5h.7M175.9 155.8h.7M172.8 160.3h.7M167.8 161.6h.7M173.3 155.5h.7M175.9 152.0h.7M170.2 158.2h.7M175.0 157.1h.7M174.2 157.5h.7M171.1 157.2h.7M172.0 154.8h.7M173.2 155.9h.7M173.5 154.2h.7M171.5 156.9h.7M171.4 156.1h.7M171.2 155.4h.7M175.1 156.7h.7M173.0 156.5h.7M170.5 149.4h.7M171.3 147.3h.7M169.0 148.7h.7M171.7 144.8h.7M169.3 146.6h.7M170.1 146.6h.7M217.0 168.4h.7M219.5 162.1h.7M221.6 159.5h.7M226.7 165.6h.7M214.6 163.2h.7M210.8 164.3h.7M214.3 161.4h.7M221.5 161.3h.7M223.7 169.0h.7M219.0 162.2h.7M213.9 155.6h.7M217.4 163.7h.7M217.9 161.8h.7M218.3 157.9h.7M221.0 150.1h.7M221.9 163.4h.7M215.5 157.7h.7M211.7 168.4h.7M212.9 164.8h.7M220.1 158.8h.7M214.0 159.6h.7M210.0 161.8h.7M221.1 165.2h.7M219.2 164.4h.7M214.3 165.4h.7M224.1 166.8h.7M218.8 155.6h.7M212.6 168.9h.7M221.6 163.1h.7M215.2 162.9h.7M219.7 165.1h.7M222.8 170.6h.7M214.8 162.1h.7M215.1 160.8h.7M214.3 164.7h.7M220.1 157.5h.7M210.0 161.4h.7M214.8 167.2h.7M213.8 164.0h.7M216.4 170.5h.7M217.5 165.1h.7M213.8 165.8h.7M217.9 163.3h.7M216.1 156.3h.7M213.8 170.6h.7M222.4 164.7h.7M214.3 169.8h.7M221.3 160.0h.7M215.2 159.3h.7M217.4 163.1h.7M209.5 160.0h.7M217.2 157.8h.7M220.9 167.1h.7M212.1 168.3h.7M210.2 163.5h.7M219.0 162.5h.7M215.6 168.1h.7M218.2 163.8h.7M224.4 154.8h.7M220.0 164.8h.7M219.3 166.5h.7M215.3 165.0h.7M216.0 170.5h.7M215.0 162.4h.7M219.0 168.1h.7M218.1 166.4h.7M222.7 170.3h.7M217.1 164.0h.7M219.1 156.1h.7M213.8 161.6h.7M216.9 163.2h.7M227.0 168.5h.7M216.1 163.5h.7M221.6 168.9h.7M220.2 170.8h.7M214.5 161.9h.7M213.0 165.5h.7M220.6 160.0h.7M213.8 158.6h.7M225.0 168.8h.7M217.1 159.2h.7M211.6 161.9h.7M216.3 159.0h.7M215.1 170.8h.7M216.2 165.5h.7M215.5 161.7h.7M210.0 164.7h.7M211.6 162.4h.7M220.2 161.0h.7M217.6 157.8h.7M218.7 167.6h.7M214.4 169.2h.7M212.3 165.2h.7M223.6 164.9h.7M211.2 170.5h.7M218.5 163.7h.7M217.4 160.9h.7M212.4 167.3h.7M224.1 158.3h.7M216.4 162.0h.7M215.7 165.4h.7M217.4 169.3h.7M218.4 170.0h.7M220.6 170.2h.7M213.2 167.0h.7M214.5 161.0h.7M224.8 166.4h.7M216.3 155.0h.7M215.1 168.7h.7M215.2 162.4h.7M222.6 163.5h.7M214.7 164.5h.7M215.1 170.0h.7M218.6 164.7h.7M214.6 163.9h.7M223.6 163.5h.7M219.0 157.5h.7M217.6 168.3h.7M221.7 166.5h.7M218.7 166.5h.7M217.0 161.1h.7M218.8 164.5h.7M219.0 168.7h.7M216.8 162.9h.7M217.5 159.0h.7M217.3 160.8h.7M218.1 165.6h.7M215.2 159.3h.7M216.4 161.8h.7M215.5 168.3h.7M220.3 158.8h.7M221.1 166.3h.7M214.7 157.7h.7M216.5 166.4h.7M211.6 159.2h.7M224.8 165.5h.7M219.6 162.2h.7M209.5 164.2h.7M222.0 161.8h.7M214.9 165.1h.7M211.6 163.5h.7M213.8 169.2h.7M216.8 169.2h.7M215.9 154.8h.7M220.0 169.2h.7M215.8 156.5h.7M214.0 166.9h.7M222.2 163.4h.7M213.7 161.3h.7M220.6 169.2h.7M212.1 158.0h.7M210.7 161.8h.7M216.8 167.0h.7M214.1 157.4h.7M214.3 161.7h.7M209.7 156.7h.7M222.8 169.5h.7M222.5 165.6h.7M214.3 164.6h.7M210.2 168.5h.7M217.3 163.5h.7M220.0 163.3h.7M216.8 167.7h.7M217.0 170.0h.7M213.2 153.9h.7M210.1 168.2h.7M220.9 165.0h.7M218.5 165.4h.7M216.9 162.7h.7M214.4 170.7h.7M215.0 164.8h.7M221.4 169.7h.7M214.4 166.2h.7M211.7 165.6h.7M217.5 165.0h.7M216.9 166.7h.7M216.5 162.6h.7M211.9 163.9h.7M223.2 163.9h.7M213.3 162.7h.7M210.9 167.3h.7M211.8 169.4h.7M220.1 167.7h.7M220.7 164.6h.7M219.0 157.6h.7M210.8 170.2h.7M219.1 165.3h.7M218.0 169.1h.7M216.0 164.0h.7M217.5 163.5h.7M226.8 161.3h.7M209.5 158.8h.7M220.8 163.1h.7M216.9 164.0h.7M217.4 158.1h.7M216.5 162.3h.7M220.9 168.0h.7M210.6 160.4h.7M218.7 170.7h.7M219.5 164.3h.7M221.1 153.7h.7M213.8 160.3h.7M211.6 167.7h.7M217.4 166.4h.7M215.6 168.0h.7M219.6 162.3h.7M220.3 160.6h.7M223.9 158.8h.7M214.9 159.8h.7M222.4 166.8h.7M213.6 169.3h.7M220.4 164.8h.7M227.1 161.8h.7M210.3 164.0h.7M221.8 161.8h.7M214.1 159.2h.7M219.6 169.0h.7M218.8 166.2h.7M220.6 164.4h.7M219.3 168.9h.7M221.9 167.5h.7M216.5 168.4h.7M223.3 165.7h.7M211.5 162.2h.7M215.5 165.3h.7M212.8 169.8h.7M219.1 156.9h.7M210.7 165.3h.7M217.4 163.0h.7M216.2 165.8h.7M211.1 165.3h.7M226.3 161.9h.7M211.6 168.2h.7M222.2 170.0h.7M213.3 164.6h.7M217.1 164.0h.7M217.9 170.2h.7M218.6 164.9h.7M219.5 165.4h.7M221.6 169.4h.7M225.5 156.3h.7M216.6 163.5h.7M212.9 165.4h.7M218.6 167.5h.7M215.5 158.6h.7M218.7 167.9h.7M225.7 169.5h.7M216.2 159.5h.7M228.4 161.7h.7M217.0 168.6h.7M211.5 161.7h.7M216.9 159.1h.7M233.5 155.1h.7M230.9 149.4h.7M229.7 153.2h.7M227.5 149.5h.7M228.4 145.8h.7M232.0 145.0h.7M221.9 158.2h.7M228.7 148.4h.7M238.0 145.0h.7M237.1 143.2h.7M231.4 144.4h.7M231.8 144.8h.7M226.6 149.2h.7M231.9 151.0h.7M227.3 149.6h.7M234.9 148.2h.7M232.7 152.1h.7M229.6 145.4h.7M225.2 148.5h.7M229.9 155.6h.7M230.1 154.9h.7M225.3 146.6h.7M234.1 154.7h.7M231.0 150.8h.7M224.7 151.6h.7M236.0 161.1h.7M227.8 150.4h.7M225.2 147.8h.7M238.2 147.1h.7M230.2 154.3h.7M231.4 155.6h.7M228.6 154.1h.7M234.6 146.0h.7M225.6 150.1h.7M231.1 159.0h.7M231.7 148.7h.7M233.4 145.7h.7M229.0 153.6h.7M230.4 151.1h.7M237.0 141.1h.7M230.4 149.3h.7M226.5 152.3h.7M225.8 158.0h.7M222.4 154.7h.7M223.0 152.0h.7M236.8 146.6h.7M234.8 157.5h.7M224.5 144.7h.7M227.8 149.4h.7M226.6 157.7h.7M234.1 146.5h.7M226.0 156.0h.7M232.5 155.4h.7M227.6 149.9h.7M223.2 152.0h.7M231.6 155.5h.7M227.6 159.0h.7M232.8 152.3h.7M231.1 156.8h.7M240.2 147.2h.7M227.5 157.6h.7M230.6 151.8h.7M231.3 156.0h.7M239.4 142.9h.7M227.1 154.0h.7M232.4 147.9h.7M232.8 155.6h.7M234.6 149.9h.7M234.0 153.2h.7M226.5 151.3h.7M226.5 149.0h.7M235.1 146.4h.7M227.9 158.1h.7M231.2 146.7h.7M229.7 148.3h.7M230.2 150.9h.7M228.7 147.5h.7M229.4 156.0h.7M231.2 153.6h.7M225.8 151.2h.7M232.8 148.0h.7M231.0 147.2h.7M233.6 153.9h.7M232.5 160.2h.7M231.4 148.5h.7M232.5 151.2h.7M230.0 154.4h.7M223.4 152.4h.7M231.3 150.1h.7M233.5 148.8h.7M234.2 148.9h.7M232.2 156.8h.7M234.0 138.7h.7M230.2 157.0h.7M235.3 148.2h.7M229.4 142.5h.7M232.7 149.8h.7M230.4 144.3h.7M229.6 150.2h.7M229.9 151.3h.7M225.1 149.1h.7M230.7 151.0h.7M219.5 147.8h.7M227.4 152.9h.7M233.7 156.6h.7M231.8 146.6h.7M241.4 152.6h.7M230.2 155.5h.7M233.8 155.3h.7M232.3 145.9h.7M229.4 147.2h.7M230.1 158.6h.7M232.8 143.5h.7M224.4 150.7h.7M231.1 140.1h.7M228.2 154.6h.7M233.1 145.7h.7M230.6 150.9h.7M232.1 147.2h.7M230.7 150.0h.7M232.4 157.2h.7M225.4 152.0h.7M229.9 152.7h.7M227.8 145.4h.7M228.7 156.4h.7M228.1 147.7h.7M229.0 155.8h.7M225.6 149.3h.7M233.3 156.4h.7M231.7 156.6h.7M232.1 159.2h.7M231.8 143.2h.7M231.2 154.5h.7M229.9 156.8h.7M233.7 146.0h.7M230.8 149.2h.7M230.1 145.5h.7M233.5 144.0h.7M225.2 150.0h.7M230.5 153.0h.7M228.2 143.4h.7M228.4 150.4h.7M228.4 155.9h.7M231.7 155.1h.7M227.7 163.1h.7M221.3 156.3h.7M230.6 148.2h.7M228.0 149.0h.7M226.5 154.3h.7M228.0 149.9h.7M227.3 151.4h.7M227.7 148.3h.7M219.0 156.1h.7M230.8 151.0h.7M230.2 145.8h.7M224.1 153.6h.7M230.2 146.8h.7M232.2 146.5h.7M224.6 149.5h.7M231.6 154.7h.7M231.4 154.3h.7M230.5 159.1h.7M239.1 140.5h.7M227.6 147.8h.7M227.7 152.2h.7M225.0 147.4h.7M231.3 155.5h.7M233.1 151.2h.7M228.9 145.7h.7M229.4 157.1h.7M230.9 150.8h.7M232.1 155.6h.7M234.9 150.2h.7M232.0 153.2h.7M227.7 149.8h.7M225.6 149.0h.7M230.8 151.8h.7M228.8 146.5h.7M226.0 155.4h.7M224.8 158.7h.7M236.0 140.0h.7M227.2 153.1h.7M230.5 141.8h.7M230.2 151.2h.7M227.1 152.9h.7M225.0 156.8h.7M237.2 147.2h.7M232.1 152.9h.7M231.8 149.0h.7M233.9 153.0h.7M231.0 148.1h.7M232.9 153.0h.7M227.4 152.4h.7M228.6 151.3h.7M234.0 145.9h.7M228.9 150.5h.7M234.6 145.4h.7M237.2 143.2h.7M228.6 151.0h.7M230.6 152.2h.7M233.5 148.1h.7M229.1 142.2h.7M226.5 148.8h.7M226.9 154.3h.7M226.5 152.3h.7M231.1 158.7h.7M232.8 153.4h.7M221.7 152.4h.7M232.1 154.5h.7M230.7 153.7h.7M232.6 157.2h.7M234.5 150.4h.7M233.8 153.6h.7M229.3 149.9h.7M229.6 153.6h.7M225.4 153.1h.7M232.9 151.2h.7M232.5 153.1h.7M229.9 142.5h.7M228.3 148.5h.7M229.9 153.7h.7M227.9 161.6h.7M233.8 148.0h.7M237.1 150.4h.7M233.1 153.8h.7M234.8 145.4h.7M226.8 158.1h.7M225.3 149.9h.7M232.7 152.0h.7M229.6 151.7h.7M231.6 143.8h.7M228.9 154.8h.7M234.4 146.9h.7M229.3 149.8h.7M235.5 146.8h.7M228.3 158.5h.7M230.4 162.9h.7M229.9 147.4h.7M227.3 155.8h.7M229.0 158.9h.7M224.5 150.6h.7M234.0 152.4h.7M227.2 155.7h.7M234.6 143.4h.7M230.1 153.4h.7M229.1 146.2h.7M225.6 149.1h.7M223.1 155.5h.7M233.1 147.7h.7M235.5 149.3h.7M231.4 150.9h.7M232.7 149.7h.7M227.8 154.9h.7M230.4 151.5h.7M228.8 153.8h.7M231.7 149.8h.7M234.1 149.4h.7M234.5 149.7h.7M236.3 149.1h.7M230.0 147.3h.7M230.8 153.6h.7M228.0 155.1h.7M222.4 154.4h.7M224.5 154.9h.7M219.8 153.6h.7M225.3 151.3h.7M222.9 159.4h.7M224.0 153.9h.7M224.7 156.8h.7M225.5 157.0h.7M225.2 154.2h.7M224.9 163.3h.7M221.8 155.5h.7M226.8 155.9h.7M227.1 161.6h.7M221.9 163.3h.7M224.8 157.0h.7M224.5 155.4h.7M222.7 153.6h.7M226.7 160.3h.7M221.4 163.7h.7M218.5 159.5h.7M225.3 153.9h.7M220.6 155.0h.7M223.8 156.3h.7M220.3 155.1h.7M225.3 156.8h.7M227.4 155.0h.7M229.3 155.3h.7M221.6 164.9h.7M222.3 154.9h.7M226.8 157.1h.7M219.1 157.5h.7M224.7 154.1h.7M227.5 153.8h.7M220.9 155.3h.7M222.5 152.3h.7M219.5 156.8h.7M230.6 155.8h.7M223.2 156.2h.7M227.8 157.1h.7M226.5 161.7h.7M225.8 158.7h.7M219.6 161.1h.7M226.4 161.1h.7M221.7 154.7h.7M226.9 151.3h.7M222.1 154.3h.7M226.0 155.4h.7M223.0 156.3h.7M221.9 156.3h.7M223.6 161.3h.7M223.6 152.3h.7M222.7 159.4h.7M228.4 151.5h.7M223.2 156.6h.7M224.5 155.6h.7M228.1 155.9h.7M228.1 157.9h.7M222.9 155.9h.7M226.8 147.2h.7M217.2 155.6h.7M223.1 153.9h.7M222.7 150.7h.7M223.4 156.0h.7M224.1 160.5h.7M224.3 158.0h.7M223.5 157.7h.7M223.5 157.4h.7M222.9 155.5h.7M224.2 145.2h.7M221.1 150.6h.7M216.8 150.4h.7M220.3 150.3h.7M216.7 148.9h.7M223.2 150.3h.7M217.2 147.5h.7M223.6 144.6h.7M219.6 149.3h.7M219.1 144.1h.7M215.9 152.6h.7M219.4 147.0h.7M219.3 144.6h.7M215.6 152.5h.7" stroke="#000" stroke-width="0.7" fill="none"/>
<line x1="57.50" y1="223.75" x2="57.50" y2="331.00" stroke="#707070" stroke-width="1.15" />
<line x1="55.00" y1="331.00" x2="253.30" y2="331.00" stroke="#707070" stroke-width="1.15" />
<line x1="55.00" y1="331.00" x2="57.50" y2="331.00" stroke="#707070" stroke-width="1.15" />
<text transform="translate(52.30,333.70) scale(0.9,1)" font-size="7.4" text-anchor="end" font-weight="normal" font-style="normal" fill="#000" >0</text>
<line x1="55.00" y1="309.55" x2="57.50" y2="309.55" stroke="#707070" stroke-width="1.15" />
<text transform="translate(52.30,312.25) scale(0.9,1)" font-size="7.4" text-anchor="end" font-weight="normal" font-style="normal" fill="#000" >40</text>
<line x1="55.00" y1="288.10" x2="57.50" y2="288.10" stroke="#707070" stroke-width="1.15" />
<text transform="translate(52.30,290.80) scale(0.9,1)" font-size="7.4" text-anchor="end" font-weight="normal" font-style="normal" fill="#000" >80</text>
<line x1="55.00" y1="266.65" x2="57.50" y2="266.65" stroke="#707070" stroke-width="1.15" />
<text transform="translate(52.30,269.35) scale(0.9,1)" font-size="7.4" text-anchor="end" font-weight="normal" font-style="normal" fill="#000" >120</text>
<line x1="55.00" y1="245.20" x2="57.50" y2="245.20" stroke="#707070" stroke-width="1.15" />
<text transform="translate(52.30,247.90) scale(0.9,1)" font-size="7.4" text-anchor="end" font-weight="normal" font-style="normal" fill="#000" >160</text>
<line x1="55.00" y1="223.75" x2="57.50" y2="223.75" stroke="#707070" stroke-width="1.15" />
<text transform="translate(52.30,226.45) scale(0.9,1)" font-size="7.4" text-anchor="end" font-weight="normal" font-style="normal" fill="#000" >200</text>
<line x1="106.40" y1="331.00" x2="106.40" y2="333.00" stroke="#707070" stroke-width="1.15" />
<line x1="155.40" y1="331.00" x2="155.40" y2="333.00" stroke="#707070" stroke-width="1.15" />
<line x1="204.30" y1="331.00" x2="204.30" y2="333.00" stroke="#707070" stroke-width="1.15" />
<line x1="253.30" y1="331.00" x2="253.30" y2="333.00" stroke="#707070" stroke-width="1.15" />
<text transform="translate(16.40,238.80) scale(0.86,1)" font-size="8.3" text-anchor="middle" font-weight="normal" font-style="normal" fill="#000" >Fold</text>
<text transform="translate(16.40,249.10) scale(0.86,1)" font-size="8.3" text-anchor="middle" font-weight="normal" font-style="normal" fill="#000" >Increase</text>
<text transform="translate(16.40,259.50) scale(0.86,1)" font-size="8.3" text-anchor="middle" font-weight="normal" font-style="normal" fill="#000" >NKT Cells</text>
<line x1="81.40" y1="304.90" x2="130.10" y2="273.60" stroke="#333" stroke-width="0.7" />
<line x1="81.40" y1="309.20" x2="130.10" y2="294.80" stroke="#333" stroke-width="0.7" />
<line x1="81.40" y1="310.70" x2="130.10" y2="300.90" stroke="#333" stroke-width="0.7" />
<line x1="81.40" y1="320.80" x2="130.10" y2="281.90" stroke="#333" stroke-width="0.7" />
<line x1="81.40" y1="322.50" x2="130.10" y2="285.20" stroke="#333" stroke-width="0.7" />
<line x1="81.40" y1="323.20" x2="130.10" y2="253.80" stroke="#333" stroke-width="0.7" />
<line x1="81.40" y1="323.60" x2="130.10" y2="294.80" stroke="#333" stroke-width="0.7" />
<line x1="81.40" y1="327.10" x2="130.10" y2="307.90" stroke="#333" stroke-width="0.7" />
<line x1="81.40" y1="328.00" x2="130.10" y2="308.60" stroke="#333" stroke-width="0.7" />
<line x1="81.40" y1="328.60" x2="130.10" y2="315.60" stroke="#333" stroke-width="0.7" />
<line x1="81.40" y1="329.50" x2="130.10" y2="326.70" stroke="#333" stroke-width="0.7" />
<line x1="81.40" y1="327.30" x2="130.10" y2="300.90" stroke="#333" stroke-width="0.7" />
<circle cx="81.40" cy="304.90" r="1.55" fill="#000" stroke="none" stroke-width="0"/>
<circle cx="130.10" cy="273.60" r="1.55" fill="#000" stroke="none" stroke-width="0"/>
<circle cx="81.40" cy="309.20" r="1.55" fill="#000" stroke="none" stroke-width="0"/>
<circle cx="130.10" cy="294.80" r="1.55" fill="#000" stroke="none" stroke-width="0"/>
<circle cx="81.40" cy="310.70" r="1.55" fill="#000" stroke="none" stroke-width="0"/>
<circle cx="130.10" cy="300.90" r="1.55" fill="#000" stroke="none" stroke-width="0"/>
<circle cx="81.40" cy="320.80" r="1.55" fill="#000" stroke="none" stroke-width="0"/>
<circle cx="130.10" cy="281.90" r="1.55" fill="#000" stroke="none" stroke-width="0"/>
<circle cx="81.40" cy="322.50" r="1.55" fill="#000" stroke="none" stroke-width="0"/>
<circle cx="130.10" cy="285.20" r="1.55" fill="#000" stroke="none" stroke-width="0"/>
<circle cx="81.40" cy="323.20" r="1.55" fill="#000" stroke="none" stroke-width="0"/>
<circle cx="130.10" cy="253.80" r="1.55" fill="#000" stroke="none" stroke-width="0"/>
<circle cx="81.40" cy="323.60" r="1.55" fill="#000" stroke="none" stroke-width="0"/>
<circle cx="130.10" cy="294.80" r="1.55" fill="#000" stroke="none" stroke-width="0"/>
<circle cx="81.40" cy="327.10" r="1.55" fill="#000" stroke="none" stroke-width="0"/>
<circle cx="130.10" cy="307.90" r="1.55" fill="#000" stroke="none" stroke-width="0"/>
<circle cx="81.40" cy="328.00" r="1.55" fill="#000" stroke="none" stroke-width="0"/>
<circle cx="130.10" cy="308.60" r="1.55" fill="#000" stroke="none" stroke-width="0"/>
<circle cx="81.40" cy="328.60" r="1.55" fill="#000" stroke="none" stroke-width="0"/>
<circle cx="130.10" cy="315.60" r="1.55" fill="#000" stroke="none" stroke-width="0"/>
<circle cx="81.40" cy="329.50" r="1.55" fill="#000" stroke="none" stroke-width="0"/>
<circle cx="130.10" cy="326.70" r="1.55" fill="#000" stroke="none" stroke-width="0"/>
<circle cx="81.40" cy="327.30" r="1.55" fill="#000" stroke="none" stroke-width="0"/>
<circle cx="130.10" cy="300.90" r="1.55" fill="#000" stroke="none" stroke-width="0"/>
<line x1="81.40" y1="317.90" x2="130.10" y2="297.60" stroke="#000" stroke-width="1.5" />
<line x1="78.20" y1="317.90" x2="84.60" y2="317.90" stroke="#000" stroke-width="1.5" />
<line x1="126.90" y1="297.60" x2="133.30" y2="297.60" stroke="#000" stroke-width="1.5" />
<line x1="84.50" y1="242.60" x2="124.50" y2="242.60" stroke="#000" stroke-width="1.2" />
<text transform="translate(105.6,234.5) scale(0.84,1)" font-size="8.2" text-anchor="middle"><tspan font-style="italic">P</tspan> &lt; .001</text>
<line x1="179.40" y1="320.20" x2="228.00" y2="229.70" stroke="#333" stroke-width="0.7" />
<line x1="179.40" y1="321.00" x2="228.00" y2="246.00" stroke="#333" stroke-width="0.7" />
<line x1="179.40" y1="326.10" x2="228.00" y2="298.70" stroke="#333" stroke-width="0.7" />
<line x1="179.40" y1="322.50" x2="228.00" y2="316.30" stroke="#333" stroke-width="0.7" />
<line x1="179.40" y1="327.60" x2="228.00" y2="320.40" stroke="#333" stroke-width="0.7" />
<circle cx="179.40" cy="320.20" r="1.55" fill="#000" stroke="none" stroke-width="0"/>
<circle cx="228.00" cy="229.70" r="1.55" fill="#000" stroke="none" stroke-width="0"/>
<circle cx="179.40" cy="321.00" r="1.55" fill="#000" stroke="none" stroke-width="0"/>
<circle cx="228.00" cy="246.00" r="1.55" fill="#000" stroke="none" stroke-width="0"/>
<circle cx="179.40" cy="326.10" r="1.55" fill="#000" stroke="none" stroke-width="0"/>
<circle cx="228.00" cy="298.70" r="1.55" fill="#000" stroke="none" stroke-width="0"/>
<circle cx="179.40" cy="322.50" r="1.55" fill="#000" stroke="none" stroke-width="0"/>
<circle cx="228.00" cy="316.30" r="1.55" fill="#000" stroke="none" stroke-width="0"/>
<circle cx="179.40" cy="327.60" r="1.55" fill="#000" stroke="none" stroke-width="0"/>
<circle cx="228.00" cy="320.40" r="1.55" fill="#000" stroke="none" stroke-width="0"/>
<line x1="179.40" y1="323.50" x2="228.00" y2="281.90" stroke="#000" stroke-width="1.5" />
<line x1="176.20" y1="323.50" x2="182.60" y2="323.50" stroke="#000" stroke-width="1.5" />
<line x1="224.80" y1="281.90" x2="231.20" y2="281.90" stroke="#000" stroke-width="1.5" />
<line x1="185.00" y1="224.30" x2="221.50" y2="224.30" stroke="#000" stroke-width="1.2" />
<text transform="translate(201.3,215.6) scale(0.86,1)" font-size="8.2" text-anchor="middle"><tspan font-style="italic">P</tspan> = .04</text>
<text transform="translate(84.50,342.70) scale(0.88,1)" font-size="8.2" text-anchor="middle" font-weight="normal" font-style="normal" fill="#000" >(-)</text>
<text transform="translate(131.60,342.70) scale(0.88,1)" font-size="8.2" text-anchor="middle" font-weight="normal" font-style="normal" fill="#000" >Len</text>
<line x1="81.50" y1="345.90" x2="137.00" y2="345.90" stroke="#000" stroke-width="1.1" />
<text transform="translate(109.20,357.60) scale(0.87,1)" font-size="8.2" text-anchor="middle" font-weight="normal" font-style="normal" fill="#000" >Healthy Donors</text>
<text transform="translate(109.20,367.70) scale(0.87,1)" font-size="8.2" text-anchor="middle" font-weight="normal" font-style="normal" fill="#000" >(N=12)</text>
<text transform="translate(181.30,342.70) scale(0.88,1)" font-size="8.2" text-anchor="middle" font-weight="normal" font-style="normal" fill="#000" >(-)</text>
<text transform="translate(227.00,342.70) scale(0.88,1)" font-size="8.2" text-anchor="middle" font-weight="normal" font-style="normal" fill="#000" >Len</text>
<line x1="177.70" y1="345.90" x2="233.00" y2="345.90" stroke="#000" stroke-width="1.1" />
<text transform="translate(205.30,357.30) scale(0.87,1)" font-size="8.2" text-anchor="middle" font-weight="normal" font-style="normal" fill="#000" >Myeloma</text>
<text transform="translate(205.20,367.50) scale(0.87,1)" font-size="8.2" text-anchor="middle" font-weight="normal" font-style="normal" fill="#000" >Patients (N=5)</text>
<line x1="60.50" y1="396.25" x2="60.50" y2="511.75" stroke="#707070" stroke-width="1.15" />
<line x1="58.00" y1="511.75" x2="245.30" y2="511.75" stroke="#707070" stroke-width="1.15" />
<line x1="58.00" y1="511.75" x2="60.50" y2="511.75" stroke="#707070" stroke-width="1.15" />
<text transform="translate(55.50,514.35) scale(0.9,1)" font-size="7.0" text-anchor="end" font-weight="normal" font-style="normal" fill="#000" >0.0</text>
<line x1="58.00" y1="488.65" x2="60.50" y2="488.65" stroke="#707070" stroke-width="1.15" />
<text transform="translate(55.50,491.25) scale(0.9,1)" font-size="7.0" text-anchor="end" font-weight="normal" font-style="normal" fill="#000" >0.5</text>
<line x1="58.00" y1="465.55" x2="60.50" y2="465.55" stroke="#707070" stroke-width="1.15" />
<text transform="translate(55.50,468.15) scale(0.9,1)" font-size="7.0" text-anchor="end" font-weight="normal" font-style="normal" fill="#000" >1.0</text>
<line x1="58.00" y1="442.45" x2="60.50" y2="442.45" stroke="#707070" stroke-width="1.15" />
<text transform="translate(55.50,445.05) scale(0.9,1)" font-size="7.0" text-anchor="end" font-weight="normal" font-style="normal" fill="#000" >1.5</text>
<line x1="58.00" y1="419.35" x2="60.50" y2="419.35" stroke="#707070" stroke-width="1.15" />
<text transform="translate(55.50,421.95) scale(0.9,1)" font-size="7.0" text-anchor="end" font-weight="normal" font-style="normal" fill="#000" >2.0</text>
<line x1="58.00" y1="396.25" x2="60.50" y2="396.25" stroke="#707070" stroke-width="1.15" />
<text transform="translate(55.50,398.85) scale(0.9,1)" font-size="7.0" text-anchor="end" font-weight="normal" font-style="normal" fill="#000" >2.5</text>
<line x1="106.70" y1="511.75" x2="106.70" y2="513.45" stroke="#999" stroke-width="1" />
<line x1="153.00" y1="511.75" x2="153.00" y2="513.45" stroke="#999" stroke-width="1" />
<line x1="199.00" y1="511.75" x2="199.00" y2="513.45" stroke="#999" stroke-width="1" />
<line x1="245.30" y1="511.75" x2="245.30" y2="513.45" stroke="#999" stroke-width="1" />
<rect x="84.25" y="504.25" width="13.00" height="7.80" fill="#000" stroke="none" stroke-width="0"/>
<line x1="71.25" y1="511.15" x2="84.25" y2="511.15" stroke="#888" stroke-width="0.6" />
<rect x="130.20" y="472.60" width="13.30" height="39.45" fill="#000" stroke="none" stroke-width="0"/>
<line x1="117.20" y1="511.15" x2="130.20" y2="511.15" stroke="#888" stroke-width="0.6" />
<rect x="175.90" y="479.20" width="13.90" height="32.85" fill="#000" stroke="none" stroke-width="0"/>
<line x1="162.90" y1="511.15" x2="175.90" y2="511.15" stroke="#888" stroke-width="0.6" />
<rect x="222.30" y="418.90" width="13.60" height="93.15" fill="#000" stroke="none" stroke-width="0"/>
<line x1="209.30" y1="511.15" x2="222.30" y2="511.15" stroke="#888" stroke-width="0.6" />
<text transform="translate(23.10,415.80) scale(0.88,1)" font-size="8.4" text-anchor="middle" font-weight="normal" font-style="normal" fill="#000" >%</text>
<text transform="translate(23.1,432.9) scale(0.95,1)" font-size="8.7" text-anchor="middle">Vα24<tspan font-size="4.2" dy="-2.6">+</tspan><tspan dy="2.6">Vβ11</tspan><tspan font-size="4.2" dy="-2.6">+</tspan></text>
<text transform="translate(23.30,449.20) scale(0.9,1)" font-size="8.2" text-anchor="middle" font-weight="normal" font-style="normal" fill="#000" >iNKT</text>
<rect x="65.20" y="398.60" width="41.20" height="30.80" fill="#fff" stroke="#4a4a4a" stroke-width="0.9"/>
<rect x="69.90" y="404.80" width="4.50" height="4.50" fill="#fff" stroke="#888" stroke-width="0.9"/>
<text transform="translate(76.60,409.80) scale(0.9,1)" font-size="8.3" text-anchor="start" font-weight="normal" font-style="normal" fill="#000" >DC(-)</text>
<rect x="69.70" y="419.40" width="5.00" height="5.00" fill="#000" stroke="none" stroke-width="0"/>
<text transform="translate(76.60,424.70) scale(0.9,1)" font-size="8.3" text-anchor="start" font-weight="normal" font-style="normal" fill="#000" >DC(GC)</text>
<text transform="translate(89.80,524.60) scale(0.87,1)" font-size="8.3" text-anchor="middle" font-weight="normal" font-style="normal" fill="#000" >(-)</text>
<text transform="translate(136.80,524.70) scale(0.87,1)" font-size="8.3" text-anchor="middle" font-weight="normal" font-style="normal" fill="#000" >Len</text>
<line x1="82.70" y1="528.40" x2="146.50" y2="528.40" stroke="#000" stroke-width="1.1" />
<text transform="translate(114.30,539.60) scale(0.87,1)" font-size="8.3" text-anchor="middle" font-weight="normal" font-style="normal" fill="#000" >i-DC</text>
<text transform="translate(177.70,524.60) scale(0.87,1)" font-size="8.3" text-anchor="middle" font-weight="normal" font-style="normal" fill="#000" >(-)</text>
<text transform="translate(224.90,524.70) scale(0.87,1)" font-size="8.3" text-anchor="middle" font-weight="normal" font-style="normal" fill="#000" >Len</text>
<line x1="170.60" y1="528.70" x2="234.30" y2="528.70" stroke="#000" stroke-width="1.1" />
<text transform="translate(202.00,539.60) scale(0.87,1)" font-size="8.3" text-anchor="middle" font-weight="normal" font-style="normal" fill="#000" >M-DC</text>
<line x1="331.75" y1="39.50" x2="331.75" y2="156.00" stroke="#707070" stroke-width="1.15" />
<line x1="329.25" y1="156.00" x2="518.75" y2="156.00" stroke="#707070" stroke-width="1.15" />
<line x1="329.25" y1="156.00" x2="331.75" y2="156.00" stroke="#707070" stroke-width="1.15" />
<text transform="translate(325.40,159.30) scale(0.9,1)" font-size="7.7" text-anchor="end" font-weight="normal" font-style="normal" fill="#000" >0</text>
<line x1="329.25" y1="139.36" x2="331.75" y2="139.36" stroke="#707070" stroke-width="1.15" />
<text transform="translate(325.40,142.66) scale(0.9,1)" font-size="7.7" text-anchor="end" font-weight="normal" font-style="normal" fill="#000" >1</text>
<line x1="329.25" y1="122.71" x2="331.75" y2="122.71" stroke="#707070" stroke-width="1.15" />
<text transform="translate(325.40,126.01) scale(0.9,1)" font-size="7.7" text-anchor="end" font-weight="normal" font-style="normal" fill="#000" >2</text>
<line x1="329.25" y1="106.07" x2="331.75" y2="106.07" stroke="#707070" stroke-width="1.15" />
<text transform="translate(325.40,109.37) scale(0.9,1)" font-size="7.7" text-anchor="end" font-weight="normal" font-style="normal" fill="#000" >3</text>
<line x1="329.25" y1="89.43" x2="331.75" y2="89.43" stroke="#707070" stroke-width="1.15" />
<text transform="translate(325.40,92.73) scale(0.9,1)" font-size="7.7" text-anchor="end" font-weight="normal" font-style="normal" fill="#000" >4</text>
<line x1="329.25" y1="72.79" x2="331.75" y2="72.79" stroke="#707070" stroke-width="1.15" />
<text transform="translate(325.40,76.09) scale(0.9,1)" font-size="7.7" text-anchor="end" font-weight="normal" font-style="normal" fill="#000" >5</text>
<line x1="329.25" y1="56.14" x2="331.75" y2="56.14" stroke="#707070" stroke-width="1.15" />
<text transform="translate(325.40,59.44) scale(0.9,1)" font-size="7.7" text-anchor="end" font-weight="normal" font-style="normal" fill="#000" >6</text>
<line x1="329.25" y1="39.50" x2="331.75" y2="39.50" stroke="#707070" stroke-width="1.15" />
<text transform="translate(325.40,42.80) scale(0.9,1)" font-size="7.7" text-anchor="end" font-weight="normal" font-style="normal" fill="#000" >7</text>
<line x1="378.50" y1="156.00" x2="378.50" y2="158.00" stroke="#707070" stroke-width="1.15" />
<line x1="425.20" y1="156.00" x2="425.20" y2="158.00" stroke="#707070" stroke-width="1.15" />
<line x1="472.00" y1="156.00" x2="472.00" y2="158.00" stroke="#707070" stroke-width="1.15" />
<line x1="518.75" y1="156.00" x2="518.75" y2="158.00" stroke="#707070" stroke-width="1.15" />
<text transform="translate(298.30,51.50) scale(0.88,1)" font-size="8.4" text-anchor="middle" font-weight="normal" font-style="normal" fill="#000" >%</text>
<text transform="translate(298.1,68.5) scale(0.95,1)" font-size="8.7" text-anchor="middle">Vα24<tspan font-size="4.2" dy="-2.6">+</tspan><tspan dy="2.6">Vβ11</tspan><tspan font-size="4.2" dy="-2.6">+</tspan></text>
<text transform="translate(297.90,84.90) scale(0.9,1)" font-size="8.3" text-anchor="middle" font-weight="normal" font-style="normal" fill="#000" >iNKT</text>
<line x1="354.50" y1="154.60" x2="401.30" y2="154.60" stroke="#000" stroke-width="2.0" />
<circle cx="354.50" cy="154.40" r="2.0" fill="#000" stroke="none" stroke-width="0"/>
<circle cx="401.30" cy="154.40" r="2.0" fill="#000" stroke="none" stroke-width="0"/>
<line x1="448.50" y1="128.80" x2="495.20" y2="49.00" stroke="#333" stroke-width="0.7" />
<line x1="448.50" y1="128.80" x2="495.20" y2="123.50" stroke="#333" stroke-width="0.7" />
<line x1="448.50" y1="148.00" x2="495.20" y2="49.80" stroke="#333" stroke-width="0.7" />
<line x1="448.50" y1="154.00" x2="495.20" y2="87.10" stroke="#333" stroke-width="0.7" />
<line x1="448.50" y1="145.80" x2="495.20" y2="131.90" stroke="#333" stroke-width="0.7" />
<line x1="448.50" y1="148.00" x2="495.20" y2="139.10" stroke="#333" stroke-width="0.7" />
<circle cx="448.50" cy="128.80" r="1.6" fill="#000" stroke="none" stroke-width="0"/>
<circle cx="495.20" cy="49.00" r="1.6" fill="#000" stroke="none" stroke-width="0"/>
<circle cx="448.50" cy="128.80" r="1.6" fill="#000" stroke="none" stroke-width="0"/>
<circle cx="495.20" cy="123.50" r="1.6" fill="#000" stroke="none" stroke-width="0"/>
<circle cx="448.50" cy="148.00" r="1.6" fill="#000" stroke="none" stroke-width="0"/>
<circle cx="495.20" cy="49.80" r="1.6" fill="#000" stroke="none" stroke-width="0"/>
<circle cx="448.50" cy="154.00" r="1.6" fill="#000" stroke="none" stroke-width="0"/>
<circle cx="495.20" cy="87.10" r="1.6" fill="#000" stroke="none" stroke-width="0"/>
<circle cx="448.50" cy="145.80" r="1.6" fill="#000" stroke="none" stroke-width="0"/>
<circle cx="495.20" cy="131.90" r="1.6" fill="#000" stroke="none" stroke-width="0"/>
<circle cx="448.50" cy="148.00" r="1.6" fill="#000" stroke="none" stroke-width="0"/>
<circle cx="495.20" cy="139.10" r="1.6" fill="#000" stroke="none" stroke-width="0"/>
<circle cx="495.20" cy="48.20" r="1.6" fill="#000" stroke="none" stroke-width="0"/>
<circle cx="495.20" cy="50.60" r="1.6" fill="#000" stroke="none" stroke-width="0"/>
<line x1="448.50" y1="142.20" x2="495.20" y2="96.50" stroke="#000" stroke-width="1.6" />
<line x1="445.10" y1="142.20" x2="451.90" y2="142.20" stroke="#000" stroke-width="1.5" />
<line x1="491.80" y1="96.50" x2="498.60" y2="96.50" stroke="#000" stroke-width="1.5" />
<line x1="448.70" y1="43.20" x2="496.00" y2="43.20" stroke="#000" stroke-width="1.2" />
<text transform="translate(472.7,39.3) scale(0.88,1)" font-size="8.6" text-anchor="middle"><tspan font-style="italic">P</tspan> = .02</text>
<text transform="translate(350.40,169.70) scale(0.88,1)" font-size="8.6" text-anchor="middle" font-weight="normal" font-style="normal" fill="#000" >Dex</text>
<text transform="translate(401.30,169.70) scale(0.88,1)" font-size="8.6" text-anchor="middle" font-weight="normal" font-style="normal" fill="#000" >Dex + Len</text>
<line x1="353.30" y1="174.70" x2="416.70" y2="174.70" stroke="#222" stroke-width="1.2" />
<text transform="translate(384.80,185.00) scale(0.88,1)" font-size="8.6" text-anchor="middle" font-weight="normal" font-style="normal" fill="#000" >DC(-)</text>
<text transform="translate(448.40,169.70) scale(0.88,1)" font-size="8.6" text-anchor="middle" font-weight="normal" font-style="normal" fill="#000" >Dex</text>
<text transform="translate(493.30,169.70) scale(0.88,1)" font-size="8.6" text-anchor="middle" font-weight="normal" font-style="normal" fill="#000" >Dex+ Len</text>
<line x1="444.20" y1="175.00" x2="507.30" y2="175.00" stroke="#222" stroke-width="1.2" />
<text transform="translate(475.30,185.10) scale(0.92,1)" font-size="8.8" text-anchor="middle" font-weight="normal" font-style="normal" fill="#000" >DC(αGC)</text>
<line x1="324.00" y1="212.50" x2="324.00" y2="340.00" stroke="#707070" stroke-width="1.15" />
<line x1="321.50" y1="340.00" x2="518.75" y2="340.00" stroke="#707070" stroke-width="1.15" />
<line x1="321.50" y1="340.00" x2="324.00" y2="340.00" stroke="#707070" stroke-width="1.15" />
<text transform="translate(318.00,343.00) scale(0.98,1)" font-size="7.5" text-anchor="end" font-weight="normal" font-style="normal" fill="#000" >0</text>
<line x1="321.50" y1="314.50" x2="324.00" y2="314.50" stroke="#707070" stroke-width="1.15" />
<text transform="translate(318.00,317.50) scale(0.98,1)" font-size="7.5" text-anchor="end" font-weight="normal" font-style="normal" fill="#000" >0.02</text>
<line x1="321.50" y1="289.00" x2="324.00" y2="289.00" stroke="#707070" stroke-width="1.15" />
<text transform="translate(318.00,292.00) scale(0.98,1)" font-size="7.5" text-anchor="end" font-weight="normal" font-style="normal" fill="#000" >0.04</text>
<line x1="321.50" y1="263.50" x2="324.00" y2="263.50" stroke="#707070" stroke-width="1.15" />
<text transform="translate(318.00,266.50) scale(0.98,1)" font-size="7.5" text-anchor="end" font-weight="normal" font-style="normal" fill="#000" >0.06</text>
<line x1="321.50" y1="238.00" x2="324.00" y2="238.00" stroke="#707070" stroke-width="1.15" />
<text transform="translate(318.00,241.00) scale(0.98,1)" font-size="7.5" text-anchor="end" font-weight="normal" font-style="normal" fill="#000" >0.08</text>
<line x1="321.50" y1="212.50" x2="324.00" y2="212.50" stroke="#707070" stroke-width="1.15" />
<text transform="translate(318.00,215.50) scale(0.98,1)" font-size="7.5" text-anchor="end" font-weight="normal" font-style="normal" fill="#000" >0.1</text>
<line x1="421.30" y1="340.00" x2="421.30" y2="342.20" stroke="#707070" stroke-width="1.15" />
<line x1="518.75" y1="340.00" x2="518.75" y2="342.20" stroke="#707070" stroke-width="1.15" />
<text transform="translate(267.50,233.00) scale(0.98,1)" font-size="8.5" text-anchor="start" font-weight="normal" font-style="normal" fill="#000" >% iNKT</text>
<line x1="372.50" y1="301.75" x2="470.00" y2="225.25" stroke="#333" stroke-width="0.8" />
<circle cx="372.50" cy="301.75" r="2.6" fill="#000" stroke="none" stroke-width="0"/>
<circle cx="470.00" cy="225.25" r="2.6" fill="#000" stroke="none" stroke-width="0"/>
<line x1="372.50" y1="340.00" x2="470.00" y2="327.25" stroke="#333" stroke-width="0.8" />
<path d="M369.80,340.00 L372.50,337.30 L375.20,340.00 L372.50,342.70Z" fill="#000" stroke="none" stroke-width="0"/>
<path d="M467.30,327.25 L470.00,324.55 L472.70,327.25 L470.00,329.95Z" fill="#000" stroke="none" stroke-width="0"/>
<rect x="328.75" y="214.50" width="40.30" height="32.00" fill="#fff" stroke="#222" stroke-width="0.8"/>
<line x1="335.00" y1="223.75" x2="344.50" y2="223.75" stroke="#222" stroke-width="0.8" />
<path d="M337.60,223.75 L339.60,221.75 L341.60,223.75 L339.60,225.75Z" fill="#000" stroke="none" stroke-width="0"/>
<text transform="translate(346.80,226.30) scale(1,1)" font-size="7.1" text-anchor="start" font-weight="normal" font-style="normal" fill="#000" >MM1</text>
<line x1="335.00" y1="238.75" x2="344.50" y2="238.75" stroke="#222" stroke-width="0.8" />
<circle cx="339.60" cy="238.75" r="2.1" fill="#000" stroke="none" stroke-width="0"/>
<text transform="translate(346.80,241.30) scale(1,1)" font-size="7.1" text-anchor="start" font-weight="normal" font-style="normal" fill="#000" >MM2</text>
<text transform="translate(372.50,351.90) scale(1.125,1)" font-size="8.9" text-anchor="middle" font-weight="normal" font-style="normal" fill="#000" >Before</text>
<text transform="translate(372.50,364.50) scale(1.125,1)" font-size="8.9" text-anchor="middle" font-weight="normal" font-style="normal" fill="#000" >Thalidomide</text>
<text transform="translate(470.80,351.90) scale(1.125,1)" font-size="8.9" text-anchor="middle" font-weight="normal" font-style="normal" fill="#000" >After</text>
<text transform="translate(470.00,364.50) scale(1.125,1)" font-size="8.9" text-anchor="middle" font-weight="normal" font-style="normal" fill="#000" >Thalidomide</text>
<line x1="315.50" y1="402.00" x2="315.50" y2="505.75" stroke="#707070" stroke-width="1.15" />
<line x1="313.00" y1="505.75" x2="517.50" y2="505.75" stroke="#707070" stroke-width="1.15" />
<line x1="313.00" y1="505.75" x2="315.50" y2="505.75" stroke="#707070" stroke-width="1.15" />
<text transform="translate(309.60,508.45) scale(0.9,1)" font-size="7.5" text-anchor="end" font-weight="normal" font-style="normal" fill="#000" >0</text>
<line x1="313.00" y1="485.00" x2="315.50" y2="485.00" stroke="#707070" stroke-width="1.15" />
<text transform="translate(309.60,487.70) scale(0.9,1)" font-size="7.5" text-anchor="end" font-weight="normal" font-style="normal" fill="#000" >0.03</text>
<line x1="313.00" y1="464.25" x2="315.50" y2="464.25" stroke="#707070" stroke-width="1.15" />
<text transform="translate(309.60,466.95) scale(0.9,1)" font-size="7.5" text-anchor="end" font-weight="normal" font-style="normal" fill="#000" >0.06</text>
<line x1="313.00" y1="443.50" x2="315.50" y2="443.50" stroke="#707070" stroke-width="1.15" />
<text transform="translate(309.60,446.20) scale(0.9,1)" font-size="7.5" text-anchor="end" font-weight="normal" font-style="normal" fill="#000" >0.09</text>
<line x1="313.00" y1="422.75" x2="315.50" y2="422.75" stroke="#707070" stroke-width="1.15" />
<text transform="translate(309.60,425.45) scale(0.9,1)" font-size="7.5" text-anchor="end" font-weight="normal" font-style="normal" fill="#000" >0.12</text>
<line x1="313.00" y1="402.00" x2="315.50" y2="402.00" stroke="#707070" stroke-width="1.15" />
<text transform="translate(309.60,404.70) scale(0.9,1)" font-size="7.5" text-anchor="end" font-weight="normal" font-style="normal" fill="#000" >0.15</text>
<line x1="382.70" y1="505.75" x2="382.70" y2="507.95" stroke="#707070" stroke-width="1.15" />
<line x1="450.00" y1="505.75" x2="450.00" y2="507.95" stroke="#707070" stroke-width="1.15" />
<line x1="517.50" y1="505.75" x2="517.50" y2="507.95" stroke="#707070" stroke-width="1.15" />
<text transform="translate(263.60,423.00) scale(0.93,1)" font-size="7.9" text-anchor="start" font-weight="normal" font-style="normal" fill="#000" >% iNKT</text>
<path d="M347.25,507.65 L347.25,505.35 L348.75,503.65 L350.25,505.35 L350.25,507.65Z" fill="none" stroke="#8a8a8a" stroke-width="0.75"/>
<path d="M415.25,507.65 L415.25,505.35 L416.75,503.65 L418.25,505.35 L418.25,507.65Z" fill="none" stroke="#8a8a8a" stroke-width="0.75"/>
<path d="M482.50,507.65 L482.50,505.35 L484.00,503.65 L485.50,505.35 L485.50,507.65Z" fill="none" stroke="#8a8a8a" stroke-width="0.75"/>
<polyline points="348.75,491.92 416.75,450.42 484.00,450.42" fill="none" stroke="#333" stroke-width="0.8"/>
<polyline points="348.75,498.83 416.75,415.83 484.00,450.42" fill="none" stroke="#333" stroke-width="0.8"/>
<polyline points="348.75,505.75 416.75,478.08 484.00,422.75" fill="none" stroke="#333" stroke-width="0.8"/>
<path d="M347.15,491.92 L348.75,490.32 L350.35,491.92 L348.75,493.52Z" fill="#000" stroke="none" stroke-width="0"/>
<path d="M414.35,450.42 L416.75,448.02 L419.15,450.42 L416.75,452.82Z" fill="#000" stroke="none" stroke-width="0"/>
<rect x="346.45" y="496.53" width="4.60" height="4.60" fill="#000" stroke="none" stroke-width="0"/>
<path d="M346.55,507.32 L348.75,503.25 L350.95,507.32Z" fill="#000" stroke="none" stroke-width="0"/>
<rect x="414.45" y="413.53" width="4.60" height="4.60" fill="#000" stroke="none" stroke-width="0"/>
<path d="M414.55,479.65 L416.75,475.58 L418.95,479.65Z" fill="#000" stroke="none" stroke-width="0"/>
<rect x="481.70" y="448.12" width="4.60" height="4.60" fill="#000" stroke="none" stroke-width="0"/>
<path d="M481.80,424.32 L484.00,420.25 L486.20,424.32Z" fill="#000" stroke="none" stroke-width="0"/>
<rect x="319.50" y="402.00" width="39.00" height="60.50" fill="#fff" stroke="#888" stroke-width="0.8"/>
<line x1="324.50" y1="407.75" x2="333.00" y2="407.75" stroke="#222" stroke-width="0.7" />
<text transform="translate(334.40,410.45) scale(0.88,1)" font-size="7.6" text-anchor="start" font-weight="normal" font-style="normal" fill="#000" >MDS1</text>
<line x1="324.50" y1="420.25" x2="333.00" y2="420.25" stroke="#222" stroke-width="0.7" />
<text transform="translate(334.40,422.95) scale(0.88,1)" font-size="7.6" text-anchor="start" font-weight="normal" font-style="normal" fill="#000" >MDS2</text>
<line x1="324.50" y1="432.50" x2="333.00" y2="432.50" stroke="#222" stroke-width="0.7" />
<text transform="translate(334.40,435.20) scale(0.88,1)" font-size="7.6" text-anchor="start" font-weight="normal" font-style="normal" fill="#000" >MDS3</text>
<line x1="324.50" y1="445.00" x2="333.00" y2="445.00" stroke="#999" stroke-width="0.7" />
<text transform="translate(334.40,447.70) scale(0.88,1)" font-size="7.6" text-anchor="start" font-weight="normal" font-style="normal" fill="#000" >MDS4</text>
<line x1="324.50" y1="456.75" x2="333.00" y2="456.75" stroke="#999" stroke-width="0.7" />
<text transform="translate(334.40,459.45) scale(0.88,1)" font-size="7.6" text-anchor="start" font-weight="normal" font-style="normal" fill="#000" >MDS5</text>
<path d="M327.20,407.75 L328.80,406.15 L330.40,407.75 L328.80,409.35Z" fill="#000" stroke="none" stroke-width="0"/>
<rect x="326.60" y="418.05" width="4.40" height="4.40" fill="#000" stroke="none" stroke-width="0"/>
<path d="M326.60,434.07 L328.80,430.00 L331.00,434.07Z" fill="#000" stroke="none" stroke-width="0"/>
<circle cx="328.80" cy="445.00" r="1.6" fill="#fff" stroke="#999" stroke-width="0.7"/>
<path d="M326.80,458.15 L328.80,454.45 L330.80,458.15Z" fill="#fff" stroke="#999" stroke-width="0.7"/>
<path d="M361,406 q2.2,0 2.2,2.5 v9.5 q0,2.4 1.8,2.7 q-1.8,0.3 -1.8,2.7 v9.5 q0,2.5 -2.2,2.5" fill="none" stroke="#777" stroke-width="0.8"/>
<text transform="translate(367.50,423.40) scale(0.9,1)" font-size="7.7" text-anchor="start" font-weight="normal" font-style="normal" fill="#000" >Del 5q</text>
<text transform="translate(348.00,525.00) scale(0.9,1)" font-size="8.4" text-anchor="middle" font-weight="normal" font-style="normal" fill="#000" >Pre</text>
<text transform="translate(422.50,525.00) scale(0.9,1)" font-size="8.4" text-anchor="middle" font-weight="normal" font-style="normal" fill="#000" >Cycle 3</text>
<text transform="translate(481.20,525.00) scale(0.9,1)" font-size="8.4" text-anchor="middle" font-weight="normal" font-style="normal" fill="#000" >Cycle 5/6</text>
<line x1="410.00" y1="530.00" x2="497.00" y2="530.00" stroke="#000" stroke-width="1.1" />
<text transform="translate(448.50,540.60) scale(0.9,1)" font-size="8.4" text-anchor="middle" font-weight="normal" font-style="normal" fill="#000" >Lenalidomide</text>
</svg>
</body></html>
